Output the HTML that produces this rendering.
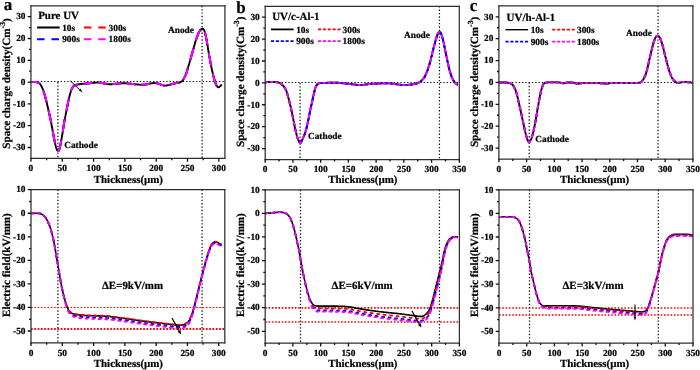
<!DOCTYPE html>
<html><head><meta charset="utf-8"><title>Space charge and electric field</title>
<style>html,body{margin:0;padding:0;background:#fff;}body{width:700px;height:370px;overflow:hidden;}svg text{fill:#000;stroke:#000;stroke-width:0.22px;}</style></head>
<body>
<svg width="700" height="370" viewBox="0 0 700 370" style="display:block;will-change:transform;font-family:'Liberation Serif', serif;font-weight:bold" text-rendering="geometricPrecision">
<rect x="0" y="0" width="700" height="370" fill="#ffffff"/>
<path d="M30.95,81.50H224.90" stroke="#111" stroke-width="1.05" stroke-dasharray="1.35 1.95" fill="none"/>
<path d="M57.90,82.10V158.40" stroke="#111" stroke-width="1.25" stroke-dasharray="1.35 2.0" fill="none"/>
<path d="M202.10,5.80V158.40" stroke="#111" stroke-width="1.25" stroke-dasharray="1.35 2.0" fill="none"/>
<path d="M30.9,82.1 L31.4,82.1 L31.9,82.1 L32.3,82.1 L32.8,82.1 L33.2,82.1 L33.7,82.1 L34.1,82.1 L34.6,82.1 L35.0,82.1 L35.5,82.1 L36.0,82.1 L36.4,82.1 L36.9,82.2 L37.3,82.3 L37.8,82.5 L38.2,82.7 L38.7,82.9 L39.1,83.2 L39.6,83.5 L40.1,84.0 L40.5,84.7 L41.0,85.4 L41.4,86.2 L41.9,87.1 L42.3,88.0 L42.8,89.1 L43.2,90.4 L43.7,91.7 L44.2,93.2 L44.6,94.7 L45.1,96.3 L45.5,97.9 L46.0,99.5 L46.4,101.4 L46.9,103.3 L47.3,105.2 L47.8,107.2 L48.3,109.2 L48.7,111.2 L49.2,113.2 L49.6,115.2 L50.1,117.2 L50.5,119.3 L51.0,121.6 L51.4,124.1 L51.9,126.7 L52.4,129.3 L52.8,131.8 L53.3,134.2 L53.7,136.6 L54.2,139.0 L54.6,141.2 L55.1,143.3 L55.5,145.2 L56.0,147.1 L56.5,148.7 L56.9,149.7 L57.4,150.6 L57.8,151.1 L58.3,151.1 L58.7,150.6 L59.2,149.7 L59.6,148.4 L60.1,146.3 L60.6,144.0 L61.0,141.7 L61.5,139.2 L61.9,136.6 L62.4,134.0 L62.8,131.2 L63.3,128.3 L63.7,125.3 L64.2,122.4 L64.7,119.8 L65.1,117.4 L65.6,115.2 L66.0,113.0 L66.5,110.8 L66.9,108.5 L67.4,106.1 L67.8,103.7 L68.3,101.4 L68.8,99.3 L69.2,97.4 L69.7,95.6 L70.1,93.8 L70.6,92.2 L71.0,90.7 L71.5,89.5 L71.9,88.5 L72.4,87.8 L72.9,87.1 L73.3,86.5 L73.8,86.0 L74.2,85.7 L74.7,85.5 L75.1,85.3 L75.6,85.1 L76.0,84.9 L76.5,84.8 L77.0,84.7 L77.4,84.5 L77.9,84.4 L78.3,84.4 L78.8,84.3 L79.2,84.2 L79.7,84.2 L80.1,84.1 L80.6,84.0 L81.1,84.0 L81.5,83.9 L82.0,83.9 L82.4,83.8 L82.9,83.8 L83.3,83.8 L83.8,83.7 L84.2,83.7 L84.7,83.7 L85.2,83.6 L85.6,83.6 L86.1,83.5 L86.5,83.5 L87.0,83.5 L87.4,83.4 L87.9,83.4 L88.3,83.3 L88.8,83.3 L89.3,83.2 L89.7,83.2 L90.2,83.1 L90.6,83.1 L91.1,83.0 L91.5,83.0 L92.0,82.9 L92.4,82.9 L92.9,82.8 L93.4,82.8 L93.8,82.7 L94.3,82.7 L94.7,82.7 L95.2,82.6 L95.6,82.6 L96.1,82.6 L96.5,82.6 L97.0,82.5 L97.4,82.5 L97.9,82.5 L98.4,82.5 L98.8,82.6 L99.3,82.6 L99.7,82.7 L100.2,82.7 L100.6,82.8 L101.1,82.8 L101.5,82.9 L102.0,83.0 L102.5,83.1 L102.9,83.2 L103.4,83.3 L103.8,83.4 L104.3,83.5 L104.7,83.6 L105.2,83.7 L105.6,83.7 L106.1,83.8 L106.6,83.9 L107.0,84.0 L107.5,84.1 L107.9,84.1 L108.4,84.2 L108.8,84.2 L109.3,84.2 L109.7,84.3 L110.2,84.3 L110.7,84.3 L111.1,84.3 L111.6,84.2 L112.0,84.2 L112.5,84.2 L112.9,84.1 L113.4,84.1 L113.8,84.1 L114.3,84.0 L114.8,83.9 L115.2,83.9 L115.7,83.8 L116.1,83.8 L116.6,83.7 L117.0,83.6 L117.5,83.6 L117.9,83.5 L118.4,83.5 L118.9,83.4 L119.3,83.4 L119.8,83.3 L120.2,83.3 L120.7,83.2 L121.1,83.2 L121.6,83.2 L122.0,83.2 L122.5,83.2 L123.0,83.2 L123.4,83.2 L123.9,83.2 L124.3,83.2 L124.8,83.3 L125.2,83.3 L125.7,83.3 L126.1,83.3 L126.6,83.4 L127.1,83.4 L127.5,83.4 L128.0,83.5 L128.4,83.5 L128.9,83.6 L129.3,83.6 L129.8,83.7 L130.2,83.7 L130.7,83.8 L131.2,83.8 L131.6,83.9 L132.1,83.9 L132.5,84.0 L133.0,84.0 L133.4,84.1 L133.9,84.1 L134.3,84.2 L134.8,84.2 L135.3,84.3 L135.7,84.3 L136.2,84.4 L136.6,84.4 L137.1,84.4 L137.5,84.5 L138.0,84.5 L138.4,84.6 L138.9,84.6 L139.4,84.6 L139.8,84.6 L140.3,84.7 L140.7,84.7 L141.2,84.7 L141.6,84.7 L142.1,84.7 L142.5,84.7 L143.0,84.7 L143.5,84.7 L143.9,84.6 L144.4,84.6 L144.8,84.6 L145.3,84.5 L145.7,84.4 L146.2,84.3 L146.6,84.3 L147.1,84.2 L147.6,84.1 L148.0,84.0 L148.5,83.9 L148.9,83.8 L149.4,83.7 L149.8,83.6 L150.3,83.5 L150.7,83.4 L151.2,83.4 L151.7,83.3 L152.1,83.2 L152.6,83.1 L153.0,83.1 L153.5,83.0 L153.9,83.0 L154.4,83.0 L154.8,83.0 L155.3,83.0 L155.8,83.0 L156.2,83.1 L156.7,83.2 L157.1,83.3 L157.6,83.4 L158.0,83.5 L158.5,83.7 L158.9,83.8 L159.4,84.0 L159.8,84.2 L160.3,84.4 L160.8,84.5 L161.2,84.7 L161.7,84.9 L162.1,85.0 L162.6,85.2 L163.0,85.3 L163.5,85.4 L163.9,85.5 L164.4,85.6 L164.9,85.6 L165.3,85.6 L165.8,85.6 L166.2,85.5 L166.7,85.5 L167.1,85.4 L167.6,85.3 L168.0,85.2 L168.5,85.1 L169.0,85.0 L169.4,84.9 L169.9,84.7 L170.3,84.6 L170.8,84.5 L171.2,84.3 L171.7,84.2 L172.1,84.0 L172.6,83.9 L173.1,83.8 L173.5,83.7 L174.0,83.5 L174.4,83.4 L174.9,83.3 L175.3,83.3 L175.8,83.2 L176.2,83.1 L176.7,83.1 L177.2,83.0 L177.6,82.9 L178.1,82.8 L178.5,82.8 L179.0,82.7 L179.4,82.6 L179.9,82.4 L180.3,82.3 L180.8,82.1 L181.3,81.7 L181.7,81.4 L182.2,81.0 L182.6,80.5 L183.1,80.0 L183.5,79.3 L184.0,78.5 L184.4,77.7 L184.9,76.7 L185.4,75.7 L185.8,74.7 L186.3,73.5 L186.7,72.1 L187.2,70.5 L187.6,68.9 L188.1,67.3 L188.5,65.7 L189.0,64.2 L189.5,62.7 L189.9,61.1 L190.4,59.6 L190.8,58.0 L191.3,56.5 L191.7,54.9 L192.2,53.3 L192.6,51.6 L193.1,49.9 L193.6,48.3 L194.0,46.6 L194.5,45.0 L194.9,43.4 L195.4,41.9 L195.8,40.4 L196.3,39.1 L196.7,37.8 L197.2,36.5 L197.7,35.2 L198.1,34.1 L198.6,33.0 L199.0,32.1 L199.5,31.3 L199.9,30.6 L200.4,29.9 L200.8,29.5 L201.3,29.2 L201.8,28.9 L202.2,28.7 L202.7,28.7 L203.1,28.9 L203.6,29.4 L204.0,30.0 L204.5,30.9 L204.9,32.5 L205.4,34.4 L205.9,36.5 L206.3,38.6 L206.8,41.0 L207.2,43.7 L207.7,46.4 L208.1,49.2 L208.6,52.0 L209.0,54.6 L209.5,57.1 L210.0,59.6 L210.4,62.1 L210.9,64.5 L211.3,66.8 L211.8,69.1 L212.2,71.1 L212.7,73.1 L213.1,74.9 L213.6,76.7 L214.1,78.4 L214.5,80.0 L215.0,81.4 L215.4,82.8 L215.9,84.1 L216.3,85.3 L216.8,86.1 L217.2,86.6 L217.7,87.0 L218.2,87.3 L218.6,87.3 L219.1,87.1 L219.5,86.8 L220.0,86.4 L220.4,86.0 L220.9,85.6 L221.3,85.1 L221.8,84.5" fill="none" stroke="#000000" stroke-width="1.9" stroke-linejoin="round"/>
<path d="M31.9,82.1L32.3,82.1L32.8,82.1L33.2,82.1L33.7,82.1L34.1,82.1L34.6,82.1L35.0,82.1L35.5,82.1L36.0,82.1L36.4,82.1L36.9,82.2L37.3,82.3L37.8,82.5L38.2,82.7L38.7,82.9L39.1,83.2L39.6,83.5L40.1,84.0L40.1,84.1M43.6,91.3L43.7,91.7L44.2,93.2L44.6,94.7L45.1,96.3L45.5,97.9L46.0,99.5L46.4,101.4L46.8,102.9M48.8,111.4L49.2,113.2L49.6,115.2L50.1,117.2L50.5,119.3L51.0,121.6L51.3,123.4M52.9,132.1L53.3,134.2L53.7,136.6L54.2,139.0L54.6,141.2L55.1,143.3L55.3,144.2M58.4,150.9L58.7,150.6L59.2,149.7L59.6,148.4L60.1,146.3L60.6,144.0L61.0,141.7L61.4,139.4M62.9,130.6L63.3,128.3L63.7,125.3L64.2,122.4L64.7,119.8L64.9,118.4M66.7,109.8L66.9,108.5L67.4,106.1L67.8,103.7L68.3,101.4L68.8,99.3L69.1,97.7M71.5,89.5L71.9,88.5L72.4,87.8L72.9,87.1L73.3,86.5L73.8,86.0L74.2,85.7L74.7,85.5L75.1,85.3L75.6,85.1L76.0,84.9L76.5,84.8L77.0,84.7L77.4,84.5L77.9,84.4L78.3,84.4L78.8,84.3M84.7,83.6L85.2,83.6L85.6,83.6L86.1,83.5L86.5,83.5L87.0,83.5L87.4,83.4L87.9,83.4L88.3,83.3L88.8,83.3L89.3,83.2L89.7,83.2L90.2,83.1L90.6,83.1L91.1,83.0L91.5,83.0L92.0,82.9L92.4,82.9L92.9,82.8L93.1,82.8M99.1,82.6L99.3,82.6L99.7,82.7L100.2,82.7L100.6,82.8L101.1,82.8L101.5,82.9L102.0,83.0L102.5,83.1L102.9,83.2L103.4,83.3L103.8,83.4L104.3,83.5L104.7,83.6L105.2,83.7L105.6,83.7L106.1,83.8L106.6,83.9L107.0,84.0L107.5,84.1M113.4,84.1L113.8,84.1L114.3,84.0L114.8,83.9L115.2,83.9L115.7,83.8L116.1,83.8L116.6,83.7L117.0,83.6L117.5,83.6L117.9,83.5L118.4,83.5L118.9,83.4L119.3,83.4L119.8,83.3L120.2,83.3L120.7,83.2L121.1,83.2L121.6,83.2L121.8,83.2M127.8,83.5L128.0,83.5L128.4,83.5L128.9,83.6L129.3,83.6L129.8,83.7L130.2,83.7L130.7,83.8L131.2,83.8L131.6,83.9L132.1,83.9L132.5,84.0L133.0,84.0L133.4,84.1L133.9,84.1L134.3,84.2L134.8,84.2L135.3,84.3L135.7,84.3L136.2,84.4L136.2,84.4M142.2,84.7L142.5,84.7L143.0,84.7L143.5,84.7L143.9,84.6L144.4,84.6L144.8,84.6L145.3,84.5L145.7,84.4L146.2,84.3L146.6,84.3L147.1,84.2L147.6,84.1L148.0,84.0L148.5,83.9L148.9,83.8L149.4,83.7L149.8,83.6L150.3,83.5L150.5,83.5M156.5,83.1L156.7,83.2L157.1,83.3L157.6,83.4L158.0,83.5L158.5,83.7L158.9,83.8L159.4,84.0L159.8,84.2L160.3,84.4L160.8,84.5L161.2,84.7L161.7,84.9L162.1,85.0L162.6,85.2L163.0,85.3L163.5,85.4L163.9,85.5L164.4,85.6L164.7,85.6M170.7,84.5L170.8,84.5L171.2,84.3L171.7,84.2L172.1,84.0L172.6,83.9L173.1,83.8L173.5,83.7L174.0,83.5L174.4,83.4L174.9,83.3L175.3,83.3L175.8,83.2L176.2,83.1L176.7,83.1L177.2,83.0L177.6,82.9L178.1,82.8L178.5,82.8L179.0,82.7L179.0,82.7M184.1,78.4L184.4,77.7L184.9,76.7L185.4,75.7L185.8,74.7L186.3,73.5L186.7,72.1L187.2,70.5L187.6,68.9L188.1,67.3M190.5,59.1L190.8,58.0L191.3,56.5L191.7,54.9L192.2,53.3L192.6,51.6L193.1,49.9L193.6,48.3L193.8,47.5M196.2,39.3L196.3,39.1L196.7,37.8L197.2,36.5L197.7,35.2L198.1,34.1L198.6,33.0L199.0,32.1L199.5,31.3L199.9,30.6L200.4,29.9L200.8,29.5L201.1,29.3M205.2,33.7L205.4,34.4L205.9,36.5L206.3,38.6L206.8,41.0L207.2,43.7L207.6,45.8M209.0,54.5L209.0,54.6L209.5,57.1L210.0,59.6L210.4,62.1L210.9,64.5L211.3,66.6M213.2,75.2L213.6,76.7L214.1,78.4L214.5,80.0L215.0,81.4L215.4,82.8L215.9,84.1L216.3,85.3L216.8,86.1L217.0,86.3" fill="none" stroke="#ff0000" stroke-width="1.9" stroke-linejoin="round"/>
<path d="M31.4,82.1L31.9,82.1L32.3,82.1L32.8,82.1L33.2,82.1L33.7,82.1L34.1,82.1L34.6,82.1L35.0,82.1L35.5,82.1L36.0,82.1L36.4,82.1L36.9,82.2L37.3,82.3L37.8,82.5L38.2,82.7L38.7,82.9L39.1,83.2L39.6,83.5L39.7,83.6M43.3,90.6L43.7,91.7L44.2,93.2L44.6,94.7L45.1,96.3L45.5,97.9L46.0,99.5L46.4,101.4L46.6,102.2M48.6,110.7L48.7,111.2L49.2,113.2L49.6,115.2L50.1,117.2L50.5,119.3L51.0,121.6L51.2,122.7M52.7,131.4L52.8,131.8L53.3,134.2L53.7,136.6L54.2,139.0L54.6,141.2L55.1,143.3L55.1,143.5M58.0,151.1L58.3,151.1L58.7,150.6L59.2,149.7L59.6,148.4L60.1,146.3L60.6,144.0L61.0,141.7L61.3,140.1M62.8,131.4L62.8,131.2L63.3,128.3L63.7,125.3L64.2,122.4L64.7,119.8L64.8,119.1M66.5,110.5L66.9,108.5L67.4,106.1L67.8,103.7L68.3,101.4L68.8,99.3L69.0,98.4M71.2,90.1L71.5,89.5L71.9,88.5L72.4,87.8L72.9,87.1L73.3,86.5L73.8,86.0L74.2,85.7L74.7,85.5L75.1,85.3L75.6,85.1L76.0,84.9L76.5,84.8L77.0,84.7L77.4,84.5L77.9,84.4L78.3,84.4M84.2,83.7L84.2,83.7L84.7,83.7L85.2,83.6L85.6,83.6L86.1,83.5L86.5,83.5L87.0,83.5L87.4,83.4L87.9,83.4L88.3,83.3L88.8,83.3L89.3,83.2L89.7,83.2L90.2,83.1L90.6,83.1L91.1,83.0L91.5,83.0L92.0,82.9L92.4,82.9L92.6,82.9M98.6,82.6L98.8,82.6L99.3,82.6L99.7,82.7L100.2,82.7L100.6,82.8L101.1,82.8L101.5,82.9L102.0,83.0L102.5,83.1L102.9,83.2L103.4,83.3L103.8,83.4L104.3,83.5L104.7,83.6L105.2,83.7L105.6,83.7L106.1,83.8L106.6,83.9L107.0,84.0M112.9,84.1L113.4,84.1L113.8,84.1L114.3,84.0L114.8,83.9L115.2,83.9L115.7,83.8L116.1,83.8L116.6,83.7L117.0,83.6L117.5,83.6L117.9,83.5L118.4,83.5L118.9,83.4L119.3,83.4L119.8,83.3L120.2,83.3L120.7,83.2L121.1,83.2L121.3,83.2M127.3,83.4L127.5,83.4L128.0,83.5L128.4,83.5L128.9,83.6L129.3,83.6L129.8,83.7L130.2,83.7L130.7,83.8L131.2,83.8L131.6,83.9L132.1,83.9L132.5,84.0L133.0,84.0L133.4,84.1L133.9,84.1L134.3,84.2L134.8,84.2L135.3,84.3L135.7,84.3M141.7,84.7L142.1,84.7L142.5,84.7L143.0,84.7L143.5,84.7L143.9,84.6L144.4,84.6L144.8,84.6L145.3,84.5L145.7,84.4L146.2,84.3L146.6,84.3L147.1,84.2L147.6,84.1L148.0,84.0L148.5,83.9L148.9,83.8L149.4,83.7L149.8,83.6L150.0,83.6M156.0,83.0L156.2,83.1L156.7,83.2L157.1,83.3L157.6,83.4L158.0,83.5L158.5,83.7L158.9,83.8L159.4,84.0L159.8,84.2L160.3,84.4L160.8,84.5L161.2,84.7L161.7,84.9L162.1,85.0L162.6,85.2L163.0,85.3L163.5,85.4L163.9,85.5L164.3,85.5M170.2,84.6L170.3,84.6L170.8,84.5L171.2,84.3L171.7,84.2L172.1,84.0L172.6,83.9L173.1,83.8L173.5,83.7L174.0,83.5L174.4,83.4L174.9,83.3L175.3,83.3L175.8,83.2L176.2,83.1L176.7,83.1L177.2,83.0L177.6,82.9L178.1,82.8L178.5,82.8M183.8,78.9L184.0,78.5L184.4,77.7L184.9,76.7L185.4,75.7L185.8,74.7L186.3,73.5L186.7,72.1L187.2,70.5L187.6,68.9L187.9,68.0M190.3,59.8L190.4,59.6L190.8,58.0L191.3,56.5L191.7,54.9L192.2,53.3L192.6,51.6L193.1,49.9L193.6,48.3L193.6,48.2M196.0,40.0L196.3,39.1L196.7,37.8L197.2,36.5L197.7,35.2L198.1,34.1L198.6,33.0L199.0,32.1L199.5,31.3L199.9,30.6L200.4,29.9L200.7,29.6M205.1,33.0L205.4,34.4L205.9,36.5L206.3,38.6L206.8,41.0L207.2,43.7L207.4,45.0M208.9,53.8L209.0,54.6L209.5,57.1L210.0,59.6L210.4,62.1L210.9,64.5L211.1,65.9M213.0,74.5L213.1,74.9L213.6,76.7L214.1,78.4L214.5,80.0L215.0,81.4L215.4,82.8L215.9,84.1L216.3,85.3L216.6,85.8M221.8,84.5L221.8,84.5" fill="none" stroke="#0000ff" stroke-width="1.9" stroke-linejoin="round"/>
<path d="M30.9,82.1L31.4,82.1L31.9,82.1L32.3,82.1L32.8,82.1L33.2,82.1L33.7,82.1L34.1,82.1L34.6,82.1L35.0,82.1L35.5,82.1L36.0,82.1L36.4,82.1L36.9,82.2L37.3,82.3L37.8,82.5L38.2,82.7L38.7,82.9L39.1,83.2L39.2,83.3M43.1,90.0L43.2,90.4L43.7,91.7L44.2,93.2L44.6,94.7L45.1,96.3L45.5,97.9L46.0,99.5L46.4,101.4L46.5,101.5M48.4,110.0L48.7,111.2L49.2,113.2L49.6,115.2L50.1,117.2L50.5,119.3L51.0,121.6L51.1,122.0M52.6,130.7L52.8,131.8L53.3,134.2L53.7,136.6L54.2,139.0L54.6,141.2L55.0,142.8M57.5,150.8L57.8,151.1L58.3,151.1L58.7,150.6L59.2,149.7L59.6,148.4L60.1,146.3L60.6,144.0L61.0,141.7L61.2,140.8M62.7,132.1L62.8,131.2L63.3,128.3L63.7,125.3L64.2,122.4L64.7,119.8M66.4,111.2L66.5,110.8L66.9,108.5L67.4,106.1L67.8,103.7L68.3,101.4L68.8,99.3L68.8,99.2M71.0,90.8L71.0,90.7L71.5,89.5L71.9,88.5L72.4,87.8L72.9,87.1L73.3,86.5L73.8,86.0L74.2,85.7L74.7,85.5L75.1,85.3L75.6,85.1L76.0,84.9L76.5,84.8L77.0,84.7L77.4,84.5L77.8,84.5M83.7,83.7L83.8,83.7L84.2,83.7L84.7,83.7L85.2,83.6L85.6,83.6L86.1,83.5L86.5,83.5L87.0,83.5L87.4,83.4L87.9,83.4L88.3,83.3L88.8,83.3L89.3,83.2L89.7,83.2L90.2,83.1L90.6,83.1L91.1,83.0L91.5,83.0L92.0,82.9L92.1,82.9M98.1,82.5L98.4,82.5L98.8,82.6L99.3,82.6L99.7,82.7L100.2,82.7L100.6,82.8L101.1,82.8L101.5,82.9L102.0,83.0L102.5,83.1L102.9,83.2L103.4,83.3L103.8,83.4L104.3,83.5L104.7,83.6L105.2,83.7L105.6,83.7L106.1,83.8L106.5,83.9M112.4,84.2L112.5,84.2L112.9,84.1L113.4,84.1L113.8,84.1L114.3,84.0L114.8,83.9L115.2,83.9L115.7,83.8L116.1,83.8L116.6,83.7L117.0,83.6L117.5,83.6L117.9,83.5L118.4,83.5L118.9,83.4L119.3,83.4L119.8,83.3L120.2,83.3L120.7,83.2L120.8,83.2M126.8,83.4L127.1,83.4L127.5,83.4L128.0,83.5L128.4,83.5L128.9,83.6L129.3,83.6L129.8,83.7L130.2,83.7L130.7,83.8L131.2,83.8L131.6,83.9L132.1,83.9L132.5,84.0L133.0,84.0L133.4,84.1L133.9,84.1L134.3,84.2L134.8,84.2L135.2,84.3M141.2,84.7L141.6,84.7L142.1,84.7L142.5,84.7L143.0,84.7L143.5,84.7L143.9,84.6L144.4,84.6L144.8,84.6L145.3,84.5L145.7,84.4L146.2,84.3L146.6,84.3L147.1,84.2L147.6,84.1L148.0,84.0L148.5,83.9L148.9,83.8L149.4,83.7L149.6,83.7M155.5,83.0L155.8,83.0L156.2,83.1L156.7,83.2L157.1,83.3L157.6,83.4L158.0,83.5L158.5,83.7L158.9,83.8L159.4,84.0L159.8,84.2L160.3,84.4L160.8,84.5L161.2,84.7L161.7,84.9L162.1,85.0L162.6,85.2L163.0,85.3L163.5,85.4L163.8,85.5M169.7,84.8L169.9,84.7L170.3,84.6L170.8,84.5L171.2,84.3L171.7,84.2L172.1,84.0L172.6,83.9L173.1,83.8L173.5,83.7L174.0,83.5L174.4,83.4L174.9,83.3L175.3,83.3L175.8,83.2L176.2,83.1L176.7,83.1L177.2,83.0L177.6,82.9L178.0,82.9M183.4,79.5L183.5,79.3L184.0,78.5L184.4,77.7L184.9,76.7L185.4,75.7L185.8,74.7L186.3,73.5L186.7,72.1L187.2,70.5L187.6,68.9L187.7,68.7M190.1,60.5L190.4,59.6L190.8,58.0L191.3,56.5L191.7,54.9L192.2,53.3L192.6,51.6L193.1,49.9L193.4,48.9M195.8,40.6L195.8,40.4L196.3,39.1L196.7,37.8L197.2,36.5L197.7,35.2L198.1,34.1L198.6,33.0L199.0,32.1L199.5,31.3L199.9,30.6L200.3,30.1M204.9,32.3L204.9,32.5L205.4,34.4L205.9,36.5L206.3,38.6L206.8,41.0L207.2,43.7L207.3,44.3M208.8,53.1L209.0,54.6L209.5,57.1L210.0,59.6L210.4,62.1L210.9,64.5L211.0,65.2M212.9,73.8L213.1,74.9L213.6,76.7L214.1,78.4L214.5,80.0L215.0,81.4L215.4,82.8L215.9,84.1L216.3,85.2M221.4,85.0L221.8,84.5" fill="none" stroke="#ff00ff" stroke-width="1.9" stroke-linejoin="round"/>
<path d="M30.35,5.80H225.50" stroke="#2e2e2e" stroke-width="1.25"/>
<path d="M224.90,5.20V159.00" stroke="#2e2e2e" stroke-width="1.25"/>
<path d="M30.35,158.40H225.50" stroke="#2e2e2e" stroke-width="1.25"/>
<path d="M30.95,5.20V159.00" stroke="#2e2e2e" stroke-width="1.25"/>
<path d="M27.65,147.50H30.95M27.65,125.70H30.95M27.65,103.90H30.95M27.65,82.10H30.95M27.65,60.30H30.95M27.65,38.50H30.95M27.65,16.70H30.95M29.05,136.60H30.95M29.05,114.80H30.95M29.05,93.00H30.95M29.05,71.20H30.95M29.05,49.40H30.95M29.05,27.60H30.95M30.95,158.40V161.70M62.26,158.40V161.70M93.58,158.40V161.70M124.89,158.40V161.70M156.20,158.40V161.70M187.51,158.40V161.70M218.83,158.40V161.70M46.61,158.40V160.30M77.92,158.40V160.30M109.23,158.40V160.30M140.54,158.40V160.30M171.86,158.40V160.30M203.17,158.40V160.30" stroke="#111" stroke-width="1.3" fill="none"/>
<text x="25.45" y="150.25" font-size="9.3" text-anchor="end">-30</text>
<text x="25.45" y="128.45" font-size="9.3" text-anchor="end">-20</text>
<text x="25.45" y="106.65" font-size="9.3" text-anchor="end">-10</text>
<text x="25.45" y="84.85" font-size="9.3" text-anchor="end">0</text>
<text x="25.45" y="63.05" font-size="9.3" text-anchor="end">10</text>
<text x="25.45" y="41.25" font-size="9.3" text-anchor="end">20</text>
<text x="25.45" y="19.45" font-size="9.3" text-anchor="end">30</text>
<text x="30.95" y="171.30" font-size="9.3" text-anchor="middle">0</text>
<text x="62.26" y="171.30" font-size="9.3" text-anchor="middle">50</text>
<text x="93.58" y="171.30" font-size="9.3" text-anchor="middle">100</text>
<text x="124.89" y="171.30" font-size="9.3" text-anchor="middle">150</text>
<text x="156.20" y="171.30" font-size="9.3" text-anchor="middle">200</text>
<text x="187.51" y="171.30" font-size="9.3" text-anchor="middle">250</text>
<text x="218.83" y="171.30" font-size="9.3" text-anchor="middle">300</text>
<path d="M70.40,80.90L79.37,89.43" stroke="#000" stroke-width="1.0" fill="none"/><path d="M82.70,92.60L78.51,90.34L80.23,88.52Z" fill="#000"/>
<text x="38.20" y="18.60" font-size="10.95">Pure UV</text>
<path d="M37.10,27.50h22.6" stroke="#000" stroke-width="2.0"/>
<path d="M83.90,27.50h22.6" stroke="#ff0000" stroke-width="2.0" stroke-dasharray="7.4 7.0"/>
<path d="M37.10,39.30h22.6" stroke="#0000ff" stroke-width="2.0" stroke-dasharray="7.4 7.0"/>
<path d="M83.90,39.30h22.6" stroke="#ff00ff" stroke-width="2.0" stroke-dasharray="7.4 7.0"/>
<text x="62.20" y="30.60" font-size="9.3">10s</text>
<text x="108.60" y="30.60" font-size="9.3">300s</text>
<text x="62.20" y="42.40" font-size="9.3">900s</text>
<text x="108.60" y="42.40" font-size="9.3">1800s</text>
<text x="168.0" y="32.8" font-size="9.3">Anode</text>
<text x="64.2" y="148.0" font-size="9.3">Cathode</text>
<text x="128.40" y="182.80" font-size="10.9" text-anchor="middle">Thickness(µm)</text>
<text transform="translate(9.80,83.45) rotate(-90)" font-size="11.1" text-anchor="middle">Space charge density(Cm<tspan font-size="7.8" dy="-4.8">-3</tspan><tspan dy="4.8">)</tspan></text>
<text x="3.8" y="10.0" font-size="17">a</text>
<path d="M265.20,82.50H459.30" stroke="#111" stroke-width="1.05" stroke-dasharray="1.35 1.95" fill="none"/>
<path d="M300.10,82.88V159.50" stroke="#111" stroke-width="1.25" stroke-dasharray="1.35 2.0" fill="none"/>
<path d="M439.45,6.25V159.50" stroke="#111" stroke-width="1.25" stroke-dasharray="1.35 2.0" fill="none"/>
<path d="M265.2,82.2 L265.7,82.2 L266.1,82.2 L266.6,82.1 L267.0,82.1 L267.5,82.1 L268.0,82.1 L268.4,82.0 L268.9,82.0 L269.3,82.0 L269.8,82.0 L270.3,82.0 L270.7,82.0 L271.2,82.0 L271.6,82.0 L272.1,82.0 L272.6,82.0 L273.0,82.0 L273.5,82.0 L273.9,82.0 L274.4,82.0 L274.9,82.0 L275.3,82.1 L275.8,82.1 L276.2,82.1 L276.7,82.2 L277.2,82.2 L277.6,82.3 L278.1,82.4 L278.5,82.4 L279.0,82.6 L279.5,82.8 L279.9,83.0 L280.4,83.3 L280.8,83.6 L281.3,84.0 L281.8,84.3 L282.2,84.8 L282.7,85.2 L283.1,85.7 L283.6,86.3 L284.1,86.9 L284.5,87.5 L285.0,88.2 L285.4,89.0 L285.9,89.9 L286.4,91.0 L286.8,92.3 L287.3,93.8 L287.7,95.4 L288.2,97.2 L288.7,98.9 L289.1,100.6 L289.6,102.4 L290.0,104.3 L290.5,106.2 L291.0,108.1 L291.4,110.2 L291.9,112.3 L292.3,114.6 L292.8,116.9 L293.3,119.2 L293.7,121.5 L294.2,123.8 L294.6,126.2 L295.1,128.4 L295.6,130.5 L296.0,132.4 L296.5,134.3 L296.9,136.0 L297.4,137.5 L297.9,138.9 L298.3,140.1 L298.8,141.2 L299.2,142.1 L299.7,142.9 L300.2,143.3 L300.6,142.8 L301.1,142.0 L301.5,141.2 L302.0,140.3 L302.5,139.3 L302.9,138.3 L303.4,137.2 L303.8,136.1 L304.3,135.0 L304.8,133.8 L305.2,132.5 L305.7,131.1 L306.1,129.6 L306.6,127.8 L307.1,125.8 L307.5,123.7 L308.0,121.5 L308.4,119.4 L308.9,117.1 L309.4,114.7 L309.8,112.3 L310.3,110.0 L310.7,107.9 L311.2,105.8 L311.7,103.7 L312.1,101.7 L312.6,99.6 L313.0,97.4 L313.5,95.3 L314.0,93.1 L314.4,91.2 L314.9,89.6 L315.3,88.1 L315.8,86.9 L316.3,85.9 L316.7,85.1 L317.2,84.4 L317.6,83.9 L318.1,83.7 L318.6,83.5 L319.0,83.3 L319.5,83.2 L319.9,83.1 L320.4,83.1 L320.9,83.0 L321.3,83.0 L321.8,83.0 L322.2,83.0 L322.7,83.0 L323.2,83.0 L323.6,82.9 L324.1,82.9 L324.5,82.9 L325.0,82.9 L325.5,82.9 L325.9,82.9 L326.4,82.9 L326.8,82.9 L327.3,82.8 L327.8,82.8 L328.2,82.8 L328.7,82.8 L329.1,82.8 L329.6,82.8 L330.1,82.7 L330.5,82.7 L331.0,82.7 L331.4,82.7 L331.9,82.7 L332.4,82.7 L332.8,82.7 L333.3,82.7 L333.7,82.7 L334.2,82.7 L334.7,82.7 L335.1,82.7 L335.6,82.7 L336.0,82.7 L336.5,82.7 L337.0,82.7 L337.4,82.8 L337.9,82.8 L338.3,82.8 L338.8,82.8 L339.2,82.9 L339.7,82.9 L340.2,83.0 L340.6,83.0 L341.1,83.0 L341.5,83.1 L342.0,83.1 L342.5,83.2 L342.9,83.2 L343.4,83.3 L343.8,83.3 L344.3,83.3 L344.8,83.4 L345.2,83.4 L345.7,83.5 L346.1,83.5 L346.6,83.6 L347.1,83.6 L347.5,83.7 L348.0,83.7 L348.4,83.8 L348.9,83.8 L349.4,83.9 L349.8,83.9 L350.3,84.0 L350.7,84.0 L351.2,84.1 L351.7,84.2 L352.1,84.2 L352.6,84.3 L353.0,84.4 L353.5,84.4 L354.0,84.5 L354.4,84.6 L354.9,84.6 L355.3,84.7 L355.8,84.8 L356.3,84.8 L356.7,84.9 L357.2,84.9 L357.6,85.0 L358.1,85.0 L358.6,85.0 L359.0,85.0 L359.5,85.1 L359.9,85.1 L360.4,85.1 L360.9,85.0 L361.3,85.0 L361.8,85.0 L362.2,85.0 L362.7,84.9 L363.2,84.9 L363.6,84.8 L364.1,84.8 L364.5,84.7 L365.0,84.6 L365.5,84.6 L365.9,84.5 L366.4,84.4 L366.8,84.4 L367.3,84.3 L367.8,84.2 L368.2,84.2 L368.7,84.1 L369.1,84.0 L369.6,84.0 L370.1,83.9 L370.5,83.9 L371.0,83.8 L371.4,83.8 L371.9,83.8 L372.4,83.7 L372.8,83.7 L373.3,83.7 L373.7,83.7 L374.2,83.7 L374.7,83.6 L375.1,83.6 L375.6,83.6 L376.0,83.6 L376.5,83.6 L377.0,83.6 L377.4,83.5 L377.9,83.5 L378.3,83.5 L378.8,83.5 L379.3,83.5 L379.7,83.5 L380.2,83.4 L380.6,83.4 L381.1,83.4 L381.6,83.4 L382.0,83.4 L382.5,83.4 L382.9,83.4 L383.4,83.4 L383.9,83.4 L384.3,83.3 L384.8,83.3 L385.2,83.3 L385.7,83.3 L386.2,83.3 L386.6,83.3 L387.1,83.3 L387.5,83.3 L388.0,83.3 L388.5,83.3 L388.9,83.3 L389.4,83.3 L389.8,83.4 L390.3,83.4 L390.8,83.4 L391.2,83.5 L391.7,83.5 L392.1,83.6 L392.6,83.6 L393.1,83.7 L393.5,83.8 L394.0,83.8 L394.4,83.9 L394.9,84.0 L395.4,84.1 L395.8,84.1 L396.3,84.2 L396.7,84.3 L397.2,84.4 L397.7,84.4 L398.1,84.5 L398.6,84.6 L399.0,84.6 L399.5,84.7 L400.0,84.8 L400.4,84.8 L400.9,84.9 L401.3,84.9 L401.8,85.0 L402.3,85.0 L402.7,85.0 L403.2,85.0 L403.6,85.1 L404.1,85.1 L404.6,85.1 L405.0,85.1 L405.5,85.0 L405.9,85.0 L406.4,85.0 L406.9,85.0 L407.3,84.9 L407.8,84.9 L408.2,84.9 L408.7,84.8 L409.2,84.8 L409.6,84.7 L410.1,84.7 L410.5,84.6 L411.0,84.6 L411.5,84.5 L411.9,84.5 L412.4,84.4 L412.8,84.3 L413.3,84.3 L413.8,84.2 L414.2,84.1 L414.7,84.0 L415.1,83.9 L415.6,83.7 L416.1,83.6 L416.5,83.5 L417.0,83.3 L417.4,83.1 L417.9,82.9 L418.4,82.7 L418.8,82.5 L419.3,82.3 L419.7,82.0 L420.2,81.7 L420.7,81.4 L421.1,81.1 L421.6,80.7 L422.0,80.2 L422.5,79.8 L423.0,79.2 L423.4,78.7 L423.9,78.0 L424.3,77.4 L424.8,76.6 L425.3,75.7 L425.7,74.7 L426.2,73.6 L426.6,72.5 L427.1,71.3 L427.6,70.1 L428.0,68.8 L428.5,67.4 L428.9,65.9 L429.4,64.4 L429.9,62.8 L430.3,61.2 L430.8,59.5 L431.2,57.6 L431.7,55.7 L432.2,53.8 L432.6,51.9 L433.1,50.0 L433.5,48.1 L434.0,46.4 L434.5,44.7 L434.9,42.9 L435.4,41.2 L435.8,39.6 L436.3,38.1 L436.8,36.6 L437.2,35.4 L437.7,34.2 L438.1,33.2 L438.6,32.6 L439.1,32.1 L439.5,31.9 L440.0,32.1 L440.4,32.5 L440.9,33.2 L441.4,34.3 L441.8,35.6 L442.3,37.2 L442.7,38.8 L443.2,40.7 L443.7,42.7 L444.1,45.0 L444.6,47.3 L445.0,49.6 L445.5,51.8 L446.0,54.0 L446.4,56.1 L446.9,58.2 L447.3,60.4 L447.8,62.6 L448.3,64.7 L448.7,66.8 L449.2,68.7 L449.6,70.5 L450.1,72.1 L450.6,73.6 L451.0,75.0 L451.5,76.3 L451.9,77.4 L452.4,78.5 L452.9,79.4 L453.3,80.3 L453.8,81.0 L454.2,81.7 L454.7,82.3 L455.2,82.9 L455.6,83.3 L456.1,83.6 L456.5,84.0 L457.0,84.3 L457.5,84.5 L457.9,84.6" fill="none" stroke="#000000" stroke-width="1.9" stroke-linejoin="round"/>
<path d="M265.2,82.2L265.7,82.2L266.1,82.2L266.6,82.1L267.0,82.1L267.5,82.1L268.0,82.1L268.0,82.1M270.2,82.0L270.3,82.0L270.7,82.0L271.2,82.0L271.6,82.0L272.1,82.0L272.6,82.0L273.0,82.0M275.2,82.1L275.3,82.1L275.8,82.1L276.2,82.1L276.7,82.2L277.2,82.2L277.6,82.3L278.0,82.4M280.1,83.2L280.4,83.3L280.8,83.6L281.3,84.0L281.8,84.3L282.2,84.8L282.6,85.1M284.3,87.2L284.5,87.5L285.0,88.2L285.4,89.0L285.9,89.9L286.1,90.4M287.1,93.3L287.3,93.8L287.7,95.4L288.2,97.2L288.2,97.2M289.0,100.2L289.1,100.6L289.6,102.4L290.0,104.2M290.8,107.3L291.0,108.1L291.4,110.2L291.6,111.2M292.3,114.4L292.3,114.6L292.8,116.9L293.1,118.4M293.7,121.6L294.2,123.8L294.5,125.6M295.2,128.8L295.6,130.5L296.0,132.4L296.1,132.7M296.9,135.9L296.9,136.0L297.4,137.5L297.9,138.9L298.2,139.7M299.5,142.6L299.7,142.9L300.2,143.3L300.6,142.8L301.1,142.0L301.5,141.2L301.7,140.8M303.1,137.9L303.4,137.2L303.8,136.1L304.3,135.0L304.6,134.1M305.7,131.1L306.1,129.6L306.6,127.8L306.7,127.1M307.4,124.0L307.5,123.7L308.0,121.5L308.3,120.0M308.9,116.9L309.4,114.7L309.7,112.8M310.4,109.7L310.7,107.9L311.2,105.8L311.2,105.7M311.9,102.5L312.1,101.7L312.6,99.6L312.8,98.6M313.5,95.4L313.5,95.3L314.0,93.1L314.4,91.4M315.3,88.4L315.3,88.1L315.8,86.9L316.3,85.9L316.7,85.1L316.8,84.9M318.7,83.4L319.0,83.3L319.5,83.2L319.9,83.1L320.4,83.1L320.9,83.0L321.3,83.0L321.5,83.0M323.7,82.9L324.1,82.9L324.5,82.9L325.0,82.9L325.5,82.9L325.9,82.9L326.4,82.9L326.5,82.9M328.7,82.8L329.1,82.8L329.6,82.8L330.1,82.7L330.5,82.7L331.0,82.7L331.4,82.7L331.5,82.7M333.7,82.7L333.7,82.7L334.2,82.7L334.7,82.7L335.1,82.7L335.6,82.7L336.0,82.7L336.5,82.7M338.7,82.8L338.8,82.8L339.2,82.9L339.7,82.9L340.2,83.0L340.6,83.0L341.1,83.0L341.5,83.1M343.7,83.3L343.8,83.3L344.3,83.3L344.8,83.4L345.2,83.4L345.7,83.5L346.1,83.5L346.5,83.6M348.7,83.8L348.9,83.8L349.4,83.9L349.8,83.9L350.3,84.0L350.7,84.0L351.2,84.1L351.4,84.1M353.6,84.5L354.0,84.5L354.4,84.6L354.9,84.6L355.3,84.7L355.8,84.8L356.3,84.8L356.4,84.8M358.6,85.0L359.0,85.0L359.5,85.1L359.9,85.1L360.4,85.1L360.9,85.0L361.3,85.0L361.4,85.0M363.6,84.8L363.6,84.8L364.1,84.8L364.5,84.7L365.0,84.6L365.5,84.6L365.9,84.5L366.4,84.4L366.4,84.4M368.6,84.1L368.7,84.1L369.1,84.0L369.6,84.0L370.1,83.9L370.5,83.9L371.0,83.8L371.4,83.8M373.6,83.7L373.7,83.7L374.2,83.7L374.7,83.6L375.1,83.6L375.6,83.6L376.0,83.6L376.4,83.6M378.6,83.5L378.8,83.5L379.3,83.5L379.7,83.5L380.2,83.4L380.6,83.4L381.1,83.4L381.4,83.4M383.6,83.4L383.9,83.4L384.3,83.3L384.8,83.3L385.2,83.3L385.7,83.3L386.2,83.3L386.4,83.3M388.6,83.3L388.9,83.3L389.4,83.3L389.8,83.4L390.3,83.4L390.8,83.4L391.2,83.5L391.4,83.5M393.6,83.8L394.0,83.8L394.4,83.9L394.9,84.0L395.4,84.1L395.8,84.1L396.3,84.2L396.4,84.2M398.5,84.6L398.6,84.6L399.0,84.6L399.5,84.7L400.0,84.8L400.4,84.8L400.9,84.9L401.3,84.9M403.5,85.1L403.6,85.1L404.1,85.1L404.6,85.1L405.0,85.1L405.5,85.0L405.9,85.0L406.3,85.0M408.5,84.8L408.7,84.8L409.2,84.8L409.6,84.7L410.1,84.7L410.5,84.6L411.0,84.6L411.3,84.5M413.5,84.2L413.8,84.2L414.2,84.1L414.7,84.0L415.1,83.9L415.6,83.7L416.1,83.6L416.3,83.5M418.4,82.7L418.8,82.5L419.3,82.3L419.7,82.0L420.2,81.7L420.7,81.4L421.0,81.2M422.8,79.4L423.0,79.2L423.4,78.7L423.9,78.0L424.3,77.4L424.8,76.6L424.9,76.5M426.1,73.8L426.2,73.6L426.6,72.5L427.1,71.3L427.5,70.1M428.5,67.2L428.9,65.9L429.4,64.4L429.7,63.4M430.5,60.3L430.8,59.5L431.2,57.6L431.5,56.4M432.3,53.3L432.6,51.9L433.1,50.0L433.2,49.4M434.0,46.3L434.5,44.7L434.9,42.9L435.1,42.4M435.9,39.3L436.3,38.1L436.8,36.6L437.2,35.6M438.4,32.9L438.6,32.6L439.1,32.1L439.5,31.9L440.0,32.1L440.4,32.5L440.8,33.0M441.9,35.8L442.3,37.2L442.7,38.8L443.0,39.7M443.7,42.8L444.1,45.0L444.5,46.8M445.1,50.0L445.5,51.8L446.0,54.0M446.6,57.1L446.9,58.2L447.3,60.4L447.5,61.1M448.2,64.3L448.3,64.7L448.7,66.8L449.1,68.2M449.9,71.3L450.1,72.1L450.6,73.6L451.0,75.0L451.1,75.1M452.2,78.0L452.4,78.5L452.9,79.4L453.3,80.3L453.8,81.0L453.9,81.2M455.6,83.3L456.1,83.6L456.5,84.0L457.0,84.3L457.5,84.5L457.9,84.6" fill="none" stroke="#ff0000" stroke-width="1.9" stroke-linejoin="round"/>
<path d="M265.2,82.2L265.7,82.2L266.1,82.2L266.6,82.1L267.0,82.1L267.5,82.1L268.0,82.1L268.0,82.1M270.2,82.0L270.3,82.0L270.7,82.0L271.2,82.0L271.6,82.0L272.1,82.0L272.6,82.0L273.0,82.0M275.2,82.1L275.3,82.1L275.8,82.1L276.2,82.1L276.7,82.2L277.2,82.2L277.6,82.3L278.0,82.4M280.1,83.2L280.4,83.3L280.8,83.6L281.3,84.0L281.8,84.3L282.2,84.8L282.6,85.1M284.3,87.2L284.5,87.5L285.0,88.2L285.4,89.0L285.9,89.9L286.1,90.4M287.1,93.3L287.3,93.8L287.7,95.4L288.2,97.2L288.2,97.2M289.0,100.2L289.1,100.6L289.6,102.4L290.0,104.2M290.8,107.3L291.0,108.1L291.4,110.2L291.6,111.2M292.3,114.4L292.3,114.6L292.8,116.9L293.1,118.4M293.7,121.6L294.2,123.8L294.5,125.6M295.2,128.8L295.6,130.5L296.0,132.4L296.1,132.7M296.9,135.9L296.9,136.0L297.4,137.5L297.9,138.9L298.3,140.0M300.0,143.1L300.2,143.3L300.6,142.8L301.1,142.0L301.5,141.2L302.0,140.3L302.3,139.5M303.8,136.2L303.8,136.1L304.3,135.0L304.8,133.8L305.2,132.5L305.3,132.1M306.3,129.0L306.6,127.8L307.1,125.8L307.2,125.0M307.9,121.9L308.0,121.5L308.4,119.4L308.7,117.9M309.4,114.7L309.4,114.7L309.8,112.3L310.1,110.7M310.8,107.5L311.2,105.8L311.7,103.7L311.7,103.5M312.4,100.4L312.6,99.6L313.0,97.4L313.3,96.4M313.9,93.3L314.0,93.1L314.4,91.2L314.9,89.6L315.0,89.4M316.0,86.5L316.3,85.9L316.7,85.1L317.2,84.4L317.6,83.9L318.0,83.7M320.2,83.1L320.4,83.1L320.9,83.0L321.3,83.0L321.8,83.0L322.2,83.0L322.7,83.0L323.0,83.0M325.2,82.9L325.5,82.9L325.9,82.9L326.4,82.9L326.8,82.9L327.3,82.8L327.8,82.8L328.0,82.8M330.2,82.7L330.5,82.7L331.0,82.7L331.4,82.7L331.9,82.7L332.4,82.7L332.8,82.7L333.0,82.7M335.2,82.7L335.6,82.7L336.0,82.7L336.5,82.7L337.0,82.7L337.4,82.8L337.9,82.8L338.0,82.8M340.2,83.0L340.6,83.0L341.1,83.0L341.5,83.1L342.0,83.1L342.5,83.2L342.9,83.2L343.0,83.2M345.2,83.4L345.2,83.4L345.7,83.5L346.1,83.5L346.6,83.6L347.1,83.6L347.5,83.7L348.0,83.7M350.2,83.9L350.3,84.0L350.7,84.0L351.2,84.1L351.7,84.2L352.1,84.2L352.6,84.3L352.9,84.4M355.1,84.7L355.3,84.7L355.8,84.8L356.3,84.8L356.7,84.9L357.2,84.9L357.6,85.0L357.9,85.0M360.1,85.1L360.4,85.1L360.9,85.0L361.3,85.0L361.8,85.0L362.2,85.0L362.7,84.9L362.9,84.9M365.1,84.6L365.5,84.6L365.9,84.5L366.4,84.4L366.8,84.4L367.3,84.3L367.8,84.2L367.9,84.2M370.1,83.9L370.5,83.9L371.0,83.8L371.4,83.8L371.9,83.8L372.4,83.7L372.8,83.7L372.9,83.7M375.1,83.6L375.1,83.6L375.6,83.6L376.0,83.6L376.5,83.6L377.0,83.6L377.4,83.5L377.9,83.5L377.9,83.5M380.1,83.4L380.2,83.4L380.6,83.4L381.1,83.4L381.6,83.4L382.0,83.4L382.5,83.4L382.9,83.4M385.1,83.3L385.2,83.3L385.7,83.3L386.2,83.3L386.6,83.3L387.1,83.3L387.5,83.3L387.9,83.3M390.1,83.4L390.3,83.4L390.8,83.4L391.2,83.5L391.7,83.5L392.1,83.6L392.6,83.6L392.9,83.7M395.1,84.0L395.4,84.1L395.8,84.1L396.3,84.2L396.7,84.3L397.2,84.4L397.7,84.4L397.8,84.5M400.0,84.8L400.4,84.8L400.9,84.9L401.3,84.9L401.8,85.0L402.3,85.0L402.7,85.0L402.8,85.0M405.0,85.1L405.5,85.0L405.9,85.0L406.4,85.0L406.9,85.0L407.3,84.9L407.8,84.9L407.8,84.9M410.0,84.7L410.1,84.7L410.5,84.6L411.0,84.6L411.5,84.5L411.9,84.5L412.4,84.4L412.8,84.3M415.0,83.9L415.1,83.9L415.6,83.7L416.1,83.6L416.5,83.5L417.0,83.3L417.4,83.1L417.7,83.0M419.8,82.0L420.2,81.7L420.7,81.4L421.1,81.1L421.6,80.7L422.0,80.2L422.3,80.0M424.0,77.9L424.3,77.4L424.8,76.6L425.3,75.7L425.7,74.7L425.7,74.6M426.9,71.8L427.1,71.3L427.6,70.1L428.0,68.8L428.2,68.1M429.2,65.2L429.4,64.4L429.9,62.8L430.3,61.3M431.1,58.2L431.2,57.6L431.7,55.7L432.0,54.3M432.8,51.2L433.1,50.0L433.5,48.1L433.8,47.2M434.6,44.2L434.9,42.9L435.4,41.2L435.6,40.3M436.5,37.3L436.8,36.6L437.2,35.4L437.7,34.2L437.9,33.6M439.7,31.9L440.0,32.1L440.4,32.5L440.9,33.2L441.4,34.3L441.6,34.9M442.5,37.9L442.7,38.8L443.2,40.7L443.4,41.8M444.1,44.9L444.1,45.0L444.6,47.3L444.9,49.0M445.6,52.1L446.0,54.0L446.4,56.1L446.4,56.1M447.1,59.3L447.3,60.4L447.8,62.6L447.9,63.3M448.6,66.4L448.7,66.8L449.2,68.7L449.6,70.3M450.5,73.4L450.6,73.6L451.0,75.0L451.5,76.3L451.8,77.1M453.1,79.8L453.3,80.3L453.8,81.0L454.2,81.7L454.7,82.3L455.0,82.7M457.0,84.2L457.0,84.3L457.5,84.5L457.9,84.6" fill="none" stroke="#0000ff" stroke-width="1.9" stroke-linejoin="round"/>
<path d="M265.2,82.2L265.7,82.2L266.1,82.2L266.6,82.1L267.0,82.1L267.5,82.1L268.0,82.1L268.0,82.1M270.2,82.0L270.3,82.0L270.7,82.0L271.2,82.0L271.6,82.0L272.1,82.0L272.6,82.0L273.0,82.0M275.2,82.1L275.3,82.1L275.8,82.1L276.2,82.1L276.7,82.2L277.2,82.2L277.6,82.3L278.0,82.4M280.1,83.2L280.4,83.3L280.8,83.6L281.3,84.0L281.8,84.3L282.2,84.8L282.6,85.1M284.3,87.2L284.5,87.5L285.0,88.2L285.4,89.0L285.9,89.9L286.1,90.4M287.1,93.3L287.3,93.8L287.7,95.4L288.2,97.2L288.2,97.2M289.0,100.2L289.1,100.6L289.6,102.4L290.0,104.2M290.8,107.3L291.0,108.1L291.4,110.2L291.6,111.2M292.3,114.4L292.3,114.6L292.8,116.9L293.1,118.4M293.7,121.6L294.2,123.8L294.5,125.6M295.2,128.8L295.6,130.5L296.0,132.4L296.1,132.7M296.9,135.8L296.9,136.0L297.4,137.5L297.9,138.9L298.1,139.6M299.4,142.3L299.7,142.9L300.2,143.3L300.6,142.8L301.1,142.0L301.4,141.5M302.7,138.8L302.9,138.3L303.4,137.2L303.8,136.1L304.2,135.3M305.3,132.4L305.7,131.1L306.1,129.6L306.4,128.5M307.1,125.4L307.5,123.7L308.0,121.5L308.0,121.4M308.6,118.3L308.9,117.1L309.4,114.7L309.4,114.3M310.1,111.1L310.3,110.0L310.7,107.9L310.9,107.1M311.6,104.0L311.7,103.7L312.1,101.7L312.5,100.0M313.2,96.8L313.5,95.3L314.0,93.1L314.0,92.8M314.8,89.8L314.9,89.6L315.3,88.1L315.8,86.9L316.2,86.1M317.7,83.9L318.1,83.7L318.6,83.5L319.0,83.3L319.5,83.2L319.9,83.1L320.4,83.1L320.5,83.1M322.7,83.0L322.7,83.0L323.2,83.0L323.6,82.9L324.1,82.9L324.5,82.9L325.0,82.9L325.5,82.9L325.5,82.9M327.7,82.8L327.8,82.8L328.2,82.8L328.7,82.8L329.1,82.8L329.6,82.8L330.1,82.7L330.5,82.7M332.7,82.7L332.8,82.7L333.3,82.7L333.7,82.7L334.2,82.7L334.7,82.7L335.1,82.7L335.5,82.7M337.7,82.8L337.9,82.8L338.3,82.8L338.8,82.8L339.2,82.9L339.7,82.9L340.2,83.0L340.5,83.0M342.7,83.2L342.9,83.2L343.4,83.3L343.8,83.3L344.3,83.3L344.8,83.4L345.2,83.4L345.5,83.5M347.7,83.7L348.0,83.7L348.4,83.8L348.9,83.8L349.4,83.9L349.8,83.9L350.3,84.0L350.5,84.0M352.6,84.3L353.0,84.4L353.5,84.4L354.0,84.5L354.4,84.6L354.9,84.6L355.3,84.7L355.4,84.7M357.6,85.0L357.6,85.0L358.1,85.0L358.6,85.0L359.0,85.0L359.5,85.1L359.9,85.1L360.4,85.1L360.4,85.1M362.6,84.9L362.7,84.9L363.2,84.9L363.6,84.8L364.1,84.8L364.5,84.7L365.0,84.6L365.4,84.6M367.6,84.3L367.8,84.2L368.2,84.2L368.7,84.1L369.1,84.0L369.6,84.0L370.1,83.9L370.4,83.9M372.6,83.7L372.8,83.7L373.3,83.7L373.7,83.7L374.2,83.7L374.7,83.6L375.1,83.6L375.4,83.6M377.6,83.5L377.9,83.5L378.3,83.5L378.8,83.5L379.3,83.5L379.7,83.5L380.2,83.4L380.4,83.4M382.6,83.4L382.9,83.4L383.4,83.4L383.9,83.4L384.3,83.3L384.8,83.3L385.2,83.3L385.4,83.3M387.6,83.3L388.0,83.3L388.5,83.3L388.9,83.3L389.4,83.3L389.8,83.4L390.3,83.4L390.4,83.4M392.6,83.6L392.6,83.6L393.1,83.7L393.5,83.8L394.0,83.8L394.4,83.9L394.9,84.0L395.4,84.1L395.4,84.1M397.6,84.4L397.7,84.4L398.1,84.5L398.6,84.6L399.0,84.6L399.5,84.7L400.0,84.8L400.3,84.8M402.5,85.0L402.7,85.0L403.2,85.0L403.6,85.1L404.1,85.1L404.6,85.1L405.0,85.1L405.3,85.0M407.5,84.9L407.8,84.9L408.2,84.9L408.7,84.8L409.2,84.8L409.6,84.7L410.1,84.7L410.3,84.7M412.5,84.4L412.8,84.3L413.3,84.3L413.8,84.2L414.2,84.1L414.7,84.0L415.1,83.9L415.3,83.8M417.4,83.1L417.9,82.9L418.4,82.7L418.8,82.5L419.3,82.3L419.7,82.0L420.1,81.8M422.0,80.2L422.0,80.2L422.5,79.8L423.0,79.2L423.4,78.7L423.9,78.0L424.2,77.6M425.6,75.0L425.7,74.7L426.2,73.6L426.6,72.5L427.0,71.4M428.1,68.5L428.5,67.4L428.9,65.9L429.3,64.7M430.2,61.7L430.3,61.2L430.8,59.5L431.2,57.8M431.9,54.7L432.2,53.8L432.6,51.9L432.9,50.8M433.7,47.7L434.0,46.4L434.5,44.7L434.7,43.8M435.5,40.7L435.8,39.6L436.3,38.1L436.7,36.9M437.8,34.0L438.1,33.2L438.6,32.6L439.1,32.1L439.5,31.9L440.0,32.1M441.4,34.5L441.8,35.6L442.3,37.2L442.6,38.3M443.4,41.4L443.7,42.7L444.1,45.0L444.2,45.4M444.8,48.5L445.0,49.6L445.5,51.8L445.6,52.6M446.3,55.7L446.4,56.1L446.9,58.2L447.2,59.7M447.8,62.8L448.3,64.7L448.7,66.8L448.7,66.8M449.5,69.9L449.6,70.5L450.1,72.1L450.6,73.6L450.6,73.8M451.6,76.7L451.9,77.4L452.4,78.5L452.9,79.4L453.2,80.1M454.8,82.4L455.2,82.9L455.6,83.3L456.1,83.6L456.5,84.0L457.0,84.3L457.3,84.4" fill="none" stroke="#ff00ff" stroke-width="1.9" stroke-linejoin="round"/>
<path d="M264.60,6.25H459.90" stroke="#2e2e2e" stroke-width="1.25"/>
<path d="M459.30,5.65V160.10" stroke="#2e2e2e" stroke-width="1.25"/>
<path d="M264.60,159.50H459.90" stroke="#2e2e2e" stroke-width="1.25"/>
<path d="M265.20,5.65V160.10" stroke="#2e2e2e" stroke-width="1.25"/>
<path d="M261.90,148.55H265.20M261.90,126.66H265.20M261.90,104.77H265.20M261.90,82.88H265.20M261.90,60.98H265.20M261.90,39.09H265.20M261.90,17.20H265.20M263.30,137.61H265.20M263.30,115.71H265.20M263.30,93.82H265.20M263.30,71.93H265.20M263.30,50.04H265.20M263.30,28.14H265.20M265.20,159.50V162.80M292.93,159.50V162.80M320.66,159.50V162.80M348.39,159.50V162.80M376.11,159.50V162.80M403.84,159.50V162.80M431.57,159.50V162.80M459.30,159.50V162.80M279.06,159.50V161.40M306.79,159.50V161.40M334.52,159.50V161.40M362.25,159.50V161.40M389.98,159.50V161.40M417.71,159.50V161.40M445.44,159.50V161.40" stroke="#111" stroke-width="1.3" fill="none"/>
<text x="259.70" y="151.30" font-size="9.3" text-anchor="end">-30</text>
<text x="259.70" y="129.41" font-size="9.3" text-anchor="end">-20</text>
<text x="259.70" y="107.52" font-size="9.3" text-anchor="end">-10</text>
<text x="259.70" y="85.62" font-size="9.3" text-anchor="end">0</text>
<text x="259.70" y="63.73" font-size="9.3" text-anchor="end">10</text>
<text x="259.70" y="41.84" font-size="9.3" text-anchor="end">20</text>
<text x="259.70" y="19.95" font-size="9.3" text-anchor="end">30</text>
<text x="265.20" y="172.40" font-size="9.3" text-anchor="middle">0</text>
<text x="292.93" y="172.40" font-size="9.3" text-anchor="middle">50</text>
<text x="320.66" y="172.40" font-size="9.3" text-anchor="middle">100</text>
<text x="348.39" y="172.40" font-size="9.3" text-anchor="middle">150</text>
<text x="376.11" y="172.40" font-size="9.3" text-anchor="middle">200</text>
<text x="403.84" y="172.40" font-size="9.3" text-anchor="middle">250</text>
<text x="431.57" y="172.40" font-size="9.3" text-anchor="middle">300</text>
<text x="459.30" y="172.40" font-size="9.3" text-anchor="middle">350</text>
<text x="272.20" y="20.00" font-size="10.95">UV/c-Al-1</text>
<path d="M271.00,29.40h22.6" stroke="#000" stroke-width="1.8"/>
<path d="M318.00,29.40h22.6" stroke="#ff0000" stroke-width="1.8" stroke-dasharray="3.1 1.77"/>
<path d="M271.00,41.10h22.6" stroke="#0000ff" stroke-width="1.8" stroke-dasharray="3.1 1.77"/>
<path d="M318.00,41.10h22.6" stroke="#ff00ff" stroke-width="1.8" stroke-dasharray="3.1 1.77"/>
<text x="296.20" y="32.50" font-size="9.3">10s</text>
<text x="342.60" y="32.50" font-size="9.3">300s</text>
<text x="296.20" y="44.20" font-size="9.3">900s</text>
<text x="342.60" y="44.20" font-size="9.3">1800s</text>
<text x="404.0" y="38.0" font-size="9.3">Anode</text>
<text x="308.0" y="139.1" font-size="9.3">Cathode</text>
<text x="362.85" y="182.90" font-size="10.9" text-anchor="middle">Thickness(µm)</text>
<text transform="translate(243.70,81.80) rotate(-90)" font-size="11.1" text-anchor="middle">Space charge density(Cm<tspan font-size="7.8" dy="-4.8">-3</tspan><tspan dy="4.8">)</tspan></text>
<text x="236.2" y="12.7" font-size="17">b</text>
<path d="M498.90,82.50H692.90" stroke="#111" stroke-width="1.05" stroke-dasharray="1.35 1.95" fill="none"/>
<path d="M529.20,82.45V159.00" stroke="#111" stroke-width="1.25" stroke-dasharray="1.35 2.0" fill="none"/>
<path d="M658.05,5.90V159.00" stroke="#111" stroke-width="1.25" stroke-dasharray="1.35 2.0" fill="none"/>
<path d="M498.9,82.5 L499.4,82.5 L499.8,82.5 L500.3,82.5 L500.8,82.5 L501.2,82.5 L501.7,82.5 L502.1,82.5 L502.6,82.5 L503.1,82.5 L503.5,82.5 L504.0,82.5 L504.5,82.5 L504.9,82.5 L505.4,82.5 L505.8,82.5 L506.3,82.5 L506.8,82.5 L507.2,82.6 L507.7,82.7 L508.2,82.7 L508.6,82.8 L509.1,82.9 L509.5,83.1 L510.0,83.2 L510.5,83.4 L510.9,83.6 L511.4,83.9 L511.9,84.2 L512.3,84.5 L512.8,85.0 L513.3,85.6 L513.7,86.3 L514.2,87.2 L514.6,88.1 L515.1,89.1 L515.6,90.2 L516.0,91.5 L516.5,93.0 L517.0,94.7 L517.4,96.6 L517.9,98.6 L518.3,100.6 L518.8,102.7 L519.3,104.8 L519.7,106.8 L520.2,108.8 L520.7,110.8 L521.1,113.0 L521.6,115.1 L522.1,117.3 L522.5,119.4 L523.0,121.6 L523.4,123.7 L523.9,125.8 L524.4,128.0 L524.8,130.2 L525.3,132.3 L525.8,134.2 L526.2,135.9 L526.7,137.5 L527.1,138.9 L527.6,140.0 L528.1,140.9 L528.5,141.7 L529.0,142.1 L529.5,142.0 L529.9,141.4 L530.4,140.6 L530.8,139.7 L531.3,138.6 L531.8,137.3 L532.2,135.9 L532.7,134.3 L533.2,132.6 L533.6,130.6 L534.1,128.4 L534.6,126.1 L535.0,123.7 L535.5,121.3 L535.9,118.8 L536.4,116.1 L536.9,113.4 L537.3,110.5 L537.8,107.7 L538.3,105.0 L538.7,102.5 L539.2,100.0 L539.6,97.6 L540.1,95.2 L540.6,93.0 L541.0,91.0 L541.5,89.2 L542.0,87.8 L542.4,86.4 L542.9,85.3 L543.3,84.4 L543.8,83.9 L544.3,83.4 L544.7,83.0 L545.2,82.7 L545.7,82.6 L546.1,82.6 L546.6,82.6 L547.1,82.5 L547.5,82.5 L548.0,82.4 L548.4,82.4 L548.9,82.4 L549.4,82.4 L549.8,82.4 L550.3,82.4 L550.8,82.3 L551.2,82.3 L551.7,82.3 L552.1,82.3 L552.6,82.3 L553.1,82.3 L553.5,82.3 L554.0,82.4 L554.5,82.4 L554.9,82.4 L555.4,82.4 L555.8,82.4 L556.3,82.4 L556.8,82.4 L557.2,82.4 L557.7,82.4 L558.2,82.4 L558.6,82.4 L559.1,82.5 L559.6,82.5 L560.0,82.6 L560.5,82.7 L560.9,82.8 L561.4,83.0 L561.9,83.1 L562.3,83.1 L562.8,83.2 L563.3,83.2 L563.7,83.2 L564.2,83.2 L564.6,83.1 L565.1,83.0 L565.6,82.9 L566.0,82.8 L566.5,82.7 L567.0,82.6 L567.4,82.6 L567.9,82.5 L568.4,82.5 L568.8,82.5 L569.3,82.5 L569.7,82.5 L570.2,82.5 L570.7,82.5 L571.1,82.5 L571.6,82.6 L572.1,82.6 L572.5,82.7 L573.0,82.7 L573.4,82.7 L573.9,82.8 L574.4,82.9 L574.8,83.0 L575.3,83.1 L575.8,83.3 L576.2,83.4 L576.7,83.6 L577.1,83.7 L577.6,83.7 L578.1,83.8 L578.5,83.7 L579.0,83.7 L579.5,83.6 L579.9,83.5 L580.4,83.4 L580.9,83.3 L581.3,83.2 L581.8,83.1 L582.2,83.1 L582.7,83.0 L583.2,83.0 L583.6,83.0 L584.1,83.0 L584.6,83.0 L585.0,83.0 L585.5,83.0 L585.9,83.0 L586.4,82.9 L586.9,82.9 L587.3,82.9 L587.8,82.9 L588.3,82.9 L588.7,82.9 L589.2,82.9 L589.6,82.9 L590.1,82.9 L590.6,82.9 L591.0,82.9 L591.5,82.9 L592.0,82.9 L592.4,82.9 L592.9,82.9 L593.4,82.9 L593.8,82.9 L594.3,82.9 L594.7,82.9 L595.2,82.9 L595.7,82.9 L596.1,82.9 L596.6,82.9 L597.1,82.9 L597.5,82.9 L598.0,83.0 L598.4,83.0 L598.9,83.0 L599.4,83.1 L599.8,83.1 L600.3,83.2 L600.8,83.2 L601.2,83.2 L601.7,83.3 L602.2,83.3 L602.6,83.4 L603.1,83.4 L603.5,83.5 L604.0,83.5 L604.5,83.6 L604.9,83.6 L605.4,83.6 L605.9,83.6 L606.3,83.6 L606.8,83.7 L607.2,83.6 L607.7,83.6 L608.2,83.6 L608.6,83.5 L609.1,83.4 L609.6,83.3 L610.0,83.2 L610.5,83.1 L610.9,83.0 L611.4,83.0 L611.9,82.9 L612.3,82.9 L612.8,82.9 L613.3,82.9 L613.7,82.9 L614.2,82.9 L614.7,82.9 L615.1,82.9 L615.6,82.9 L616.0,82.9 L616.5,82.9 L617.0,82.9 L617.4,82.9 L617.9,82.9 L618.4,82.9 L618.8,82.9 L619.3,82.9 L619.7,82.9 L620.2,83.0 L620.7,83.0 L621.1,83.0 L621.6,83.0 L622.1,83.0 L622.5,83.0 L623.0,83.0 L623.4,83.0 L623.9,83.0 L624.4,83.0 L624.8,83.0 L625.3,83.0 L625.8,83.0 L626.2,83.0 L626.7,83.0 L627.2,83.0 L627.6,83.0 L628.1,83.0 L628.5,83.0 L629.0,83.0 L629.5,83.0 L629.9,83.0 L630.4,83.0 L630.9,83.0 L631.3,83.0 L631.8,83.0 L632.2,83.0 L632.7,83.0 L633.2,83.0 L633.6,83.0 L634.1,82.9 L634.6,82.9 L635.0,82.9 L635.5,82.9 L636.0,82.9 L636.4,82.9 L636.9,82.9 L637.3,82.9 L637.8,82.9 L638.3,82.8 L638.7,82.8 L639.2,82.7 L639.7,82.6 L640.1,82.5 L640.6,82.3 L641.0,82.1 L641.5,81.8 L642.0,81.2 L642.4,80.6 L642.9,80.0 L643.4,79.3 L643.8,78.5 L644.3,77.7 L644.7,76.7 L645.2,75.6 L645.7,74.4 L646.1,73.1 L646.6,71.5 L647.1,69.7 L647.5,67.8 L648.0,65.8 L648.5,63.7 L648.9,61.6 L649.4,59.6 L649.8,57.7 L650.3,55.7 L650.8,53.7 L651.2,51.7 L651.7,49.7 L652.2,47.7 L652.6,45.9 L653.1,44.2 L653.5,42.7 L654.0,41.3 L654.5,40.0 L654.9,38.8 L655.4,37.7 L655.9,36.9 L656.3,36.5 L656.8,36.1 L657.2,35.8 L657.7,35.6 L658.2,35.8 L658.6,36.1 L659.1,36.7 L659.6,37.3 L660.0,38.0 L660.5,39.1 L661.0,40.3 L661.4,41.7 L661.9,43.0 L662.3,44.5 L662.8,46.2 L663.3,48.0 L663.7,49.9 L664.2,51.8 L664.7,53.7 L665.1,55.6 L665.6,57.4 L666.0,59.1 L666.5,60.9 L667.0,62.7 L667.4,64.5 L667.9,66.3 L668.4,68.0 L668.8,69.6 L669.3,71.1 L669.7,72.4 L670.2,73.7 L670.7,74.9 L671.1,76.1 L671.6,77.1 L672.1,78.0 L672.5,78.7 L673.0,79.4 L673.5,80.0 L673.9,80.5 L674.4,80.9 L674.8,81.3 L675.3,81.7 L675.8,82.0 L676.2,82.3 L676.7,82.6 L677.2,82.8 L677.6,82.9 L678.1,82.9 L678.5,82.8 L679.0,82.8 L679.5,82.7 L679.9,82.6 L680.4,82.5 L680.9,82.4 L681.3,82.3 L681.8,82.2 L682.3,82.1 L682.7,82.1 L683.2,82.0 L683.6,82.0 L684.1,82.0 L684.6,82.0 L685.0,82.0 L685.5,82.0 L686.0,82.1 L686.4,82.1 L686.9,82.1 L687.3,82.1 L687.8,82.2 L688.3,82.2 L688.7,82.2 L689.2,82.2 L689.7,82.3 L690.1,82.3 L690.6,82.4 L691.0,82.5 L691.5,82.6 L692.0,82.7 L692.4,82.8 L692.9,82.9" fill="none" stroke="#000000" stroke-width="1.9" stroke-linejoin="round"/>
<path d="M498.9,82.5L499.4,82.5L499.8,82.5L500.3,82.5L500.8,82.5L501.2,82.5L501.7,82.5L501.8,82.5M503.9,82.5L504.0,82.5L504.5,82.5L504.9,82.5L505.4,82.5L505.8,82.5L506.3,82.5L506.8,82.5L506.8,82.5M508.9,82.9L509.1,82.9L509.5,83.1L510.0,83.2L510.5,83.4L510.9,83.6L511.4,83.9L511.7,84.1M513.4,85.8L513.7,86.3L514.2,87.2L514.6,88.1L515.1,89.1L515.2,89.2M516.2,92.0L516.5,93.0L517.0,94.7L517.3,96.0M518.0,99.0L518.3,100.6L518.8,102.7L518.9,103.1M519.6,106.1L519.7,106.8L520.2,108.8L520.5,110.2M521.2,113.2L521.6,115.1L522.1,117.3L522.1,117.3M522.7,120.3L523.0,121.6L523.4,123.7L523.6,124.5M524.2,127.5L524.4,128.0L524.8,130.2L525.1,131.6M525.9,134.6L526.2,135.9L526.7,137.5L527.0,138.5M528.2,141.1L528.5,141.7L529.0,142.1L529.5,142.0L529.9,141.4L530.4,140.6L530.4,140.5M531.6,137.9L531.8,137.3L532.2,135.9L532.7,134.3L532.8,133.9M533.5,131.0L533.6,130.6L534.1,128.4L534.4,126.8M535.0,123.8L535.0,123.7L535.5,121.3L535.8,119.6M536.3,116.6L536.4,116.1L536.9,113.4L537.0,112.4M537.5,109.3L537.8,107.7L538.2,105.1M538.8,102.1L539.2,100.0L539.6,97.9M540.2,94.9L540.6,93.0L541.0,91.0L541.1,90.7M541.9,87.8L542.0,87.8L542.4,86.4L542.9,85.3L543.3,84.4L543.5,84.2M545.3,82.7L545.7,82.6L546.1,82.6L546.6,82.6L547.1,82.5L547.5,82.5L548.0,82.4L548.2,82.4M550.3,82.4L550.8,82.3L551.2,82.3L551.7,82.3L552.1,82.3L552.6,82.3L553.1,82.3L553.2,82.3M555.3,82.4L555.4,82.4L555.8,82.4L556.3,82.4L556.8,82.4L557.2,82.4L557.7,82.4L558.2,82.4L558.2,82.4M560.3,82.7L560.5,82.7L560.9,82.8L561.4,83.0L561.9,83.1L562.3,83.1L562.8,83.2L563.2,83.2M565.3,83.0L565.6,82.9L566.0,82.8L566.5,82.7L567.0,82.6L567.4,82.6L567.9,82.5L568.2,82.5M570.3,82.5L570.7,82.5L571.1,82.5L571.6,82.6L572.1,82.6L572.5,82.7L573.0,82.7L573.2,82.7M575.2,83.1L575.3,83.1L575.8,83.3L576.2,83.4L576.7,83.6L577.1,83.7L577.6,83.7L578.1,83.8L578.1,83.8M580.2,83.5L580.4,83.4L580.9,83.3L581.3,83.2L581.8,83.1L582.2,83.1L582.7,83.0L583.1,83.0M585.2,83.0L585.5,83.0L585.9,83.0L586.4,82.9L586.9,82.9L587.3,82.9L587.8,82.9L588.1,82.9M590.2,82.9L590.6,82.9L591.0,82.9L591.5,82.9L592.0,82.9L592.4,82.9L592.9,82.9L593.1,82.9M595.2,82.9L595.2,82.9L595.7,82.9L596.1,82.9L596.6,82.9L597.1,82.9L597.5,82.9L598.0,83.0L598.1,83.0M600.2,83.1L600.3,83.2L600.8,83.2L601.2,83.2L601.7,83.3L602.2,83.3L602.6,83.4L603.1,83.4M605.2,83.6L605.4,83.6L605.9,83.6L606.3,83.6L606.8,83.7L607.2,83.6L607.7,83.6L608.0,83.6M610.1,83.2L610.5,83.1L610.9,83.0L611.4,83.0L611.9,82.9L612.3,82.9L612.8,82.9L613.0,82.9M615.1,82.9L615.6,82.9L616.0,82.9L616.5,82.9L617.0,82.9L617.4,82.9L617.9,82.9L618.0,82.9M620.1,82.9L620.2,83.0L620.7,83.0L621.1,83.0L621.6,83.0L622.1,83.0L622.5,83.0L623.0,83.0L623.0,83.0M625.1,83.0L625.3,83.0L625.8,83.0L626.2,83.0L626.7,83.0L627.2,83.0L627.6,83.0L628.0,83.0M630.1,83.0L630.4,83.0L630.9,83.0L631.3,83.0L631.8,83.0L632.2,83.0L632.7,83.0L633.0,83.0M635.1,82.9L635.5,82.9L636.0,82.9L636.4,82.9L636.9,82.9L637.3,82.9L637.8,82.9L638.0,82.9M640.1,82.5L640.1,82.5L640.6,82.3L641.0,82.1L641.5,81.8L642.0,81.2L642.4,80.6L642.6,80.4M644.0,78.1L644.3,77.7L644.7,76.7L645.2,75.6L645.6,74.5M646.6,71.7L646.6,71.5L647.1,69.7L647.5,67.8L647.6,67.6M648.2,64.6L648.5,63.7L648.9,61.6L649.2,60.5M649.9,57.5L650.3,55.7L650.8,53.7L650.8,53.4M651.5,50.4L651.7,49.7L652.2,47.7L652.5,46.4M653.3,43.4L653.5,42.7L654.0,41.3L654.5,40.0L654.6,39.6M655.8,37.0L655.9,36.9L656.3,36.5L656.8,36.1L657.2,35.8L657.7,35.6L658.2,35.8L658.4,36.0M660.0,38.0L660.5,39.1L661.0,40.3L661.4,41.7L661.5,41.8M662.4,44.6L662.8,46.2L663.3,48.0L663.4,48.7M664.2,51.6L664.2,51.8L664.7,53.7L665.1,55.6L665.2,55.7M665.9,58.7L666.0,59.1L666.5,60.9L667.0,62.7L667.0,62.7M667.7,65.7L667.9,66.3L668.4,68.0L668.8,69.6L668.9,69.7M669.8,72.5L670.2,73.7L670.7,74.9L671.1,76.1L671.2,76.3M672.5,78.7L673.0,79.4L673.5,80.0L673.9,80.5L674.4,80.9L674.8,81.3L674.8,81.3M676.8,82.6L677.2,82.8L677.6,82.9L678.1,82.9L678.5,82.8L679.0,82.8L679.5,82.7L679.6,82.7M681.7,82.2L681.8,82.2L682.3,82.1L682.7,82.1L683.2,82.0L683.6,82.0L684.1,82.0L684.6,82.0L684.6,82.0M686.7,82.1L686.9,82.1L687.3,82.1L687.8,82.2L688.3,82.2L688.7,82.2L689.2,82.2L689.6,82.3M691.7,82.6L692.0,82.7L692.4,82.8L692.9,82.9" fill="none" stroke="#ff0000" stroke-width="1.9" stroke-linejoin="round"/>
<path d="M498.9,82.5L499.4,82.5L499.8,82.5L500.3,82.5L500.8,82.5L501.2,82.5L501.7,82.5L501.8,82.5M503.9,82.5L504.0,82.5L504.5,82.5L504.9,82.5L505.4,82.5L505.8,82.5L506.3,82.5L506.8,82.5L506.8,82.5M508.9,82.9L509.1,82.9L509.5,83.1L510.0,83.2L510.5,83.4L510.9,83.6L511.4,83.9L511.7,84.1M513.4,85.8L513.7,86.3L514.2,87.2L514.6,88.1L515.1,89.1L515.2,89.2M516.2,92.0L516.5,93.0L517.0,94.7L517.3,96.0M518.0,99.0L518.3,100.6L518.8,102.7L518.9,103.1M519.6,106.1L519.7,106.8L520.2,108.8L520.5,110.2M521.2,113.2L521.6,115.1L522.1,117.3L522.1,117.3M522.7,120.3L523.0,121.6L523.4,123.7L523.6,124.5M524.2,127.5L524.4,128.0L524.8,130.2L525.1,131.6M525.9,134.6L526.2,135.9L526.7,137.5L527.0,138.5M528.2,141.1L528.5,141.7L529.0,142.1L529.5,142.0L529.9,141.4L530.4,140.6L530.4,140.5M531.6,137.9L531.8,137.3L532.2,135.9L532.7,134.3L532.8,133.9M533.5,131.0L533.6,130.6L534.1,128.4L534.4,126.8M535.0,123.8L535.0,123.7L535.5,121.3L535.8,119.6M536.3,116.6L536.4,116.1L536.9,113.4L537.0,112.4M537.5,109.3L537.8,107.7L538.2,105.1M538.8,102.1L539.2,100.0L539.6,97.9M540.2,94.9L540.6,93.0L541.0,91.0L541.1,90.7M541.9,87.8L542.0,87.8L542.4,86.4L542.9,85.3L543.3,84.4L543.5,84.2M545.3,82.7L545.7,82.6L546.1,82.6L546.6,82.6L547.1,82.5L547.5,82.5L548.0,82.4L548.2,82.4M550.3,82.4L550.8,82.3L551.2,82.3L551.7,82.3L552.1,82.3L552.6,82.3L553.1,82.3L553.2,82.3M555.3,82.4L555.4,82.4L555.8,82.4L556.3,82.4L556.8,82.4L557.2,82.4L557.7,82.4L558.2,82.4L558.2,82.4M560.3,82.7L560.5,82.7L560.9,82.8L561.4,83.0L561.9,83.1L562.3,83.1L562.8,83.2L563.2,83.2M565.3,83.0L565.6,82.9L566.0,82.8L566.5,82.7L567.0,82.6L567.4,82.6L567.9,82.5L568.2,82.5M570.3,82.5L570.7,82.5L571.1,82.5L571.6,82.6L572.1,82.6L572.5,82.7L573.0,82.7L573.2,82.7M575.2,83.1L575.3,83.1L575.8,83.3L576.2,83.4L576.7,83.6L577.1,83.7L577.6,83.7L578.1,83.8L578.1,83.8M580.2,83.5L580.4,83.4L580.9,83.3L581.3,83.2L581.8,83.1L582.2,83.1L582.7,83.0L583.1,83.0M585.2,83.0L585.5,83.0L585.9,83.0L586.4,82.9L586.9,82.9L587.3,82.9L587.8,82.9L588.1,82.9M590.2,82.9L590.6,82.9L591.0,82.9L591.5,82.9L592.0,82.9L592.4,82.9L592.9,82.9L593.1,82.9M595.2,82.9L595.2,82.9L595.7,82.9L596.1,82.9L596.6,82.9L597.1,82.9L597.5,82.9L598.0,83.0L598.1,83.0M600.2,83.1L600.3,83.2L600.8,83.2L601.2,83.2L601.7,83.3L602.2,83.3L602.6,83.4L603.1,83.4M605.2,83.6L605.4,83.6L605.9,83.6L606.3,83.6L606.8,83.7L607.2,83.6L607.7,83.6L608.0,83.6M610.1,83.2L610.5,83.1L610.9,83.0L611.4,83.0L611.9,82.9L612.3,82.9L612.8,82.9L613.0,82.9M615.1,82.9L615.6,82.9L616.0,82.9L616.5,82.9L617.0,82.9L617.4,82.9L617.9,82.9L618.0,82.9M620.1,82.9L620.2,83.0L620.7,83.0L621.1,83.0L621.6,83.0L622.1,83.0L622.5,83.0L623.0,83.0L623.0,83.0M625.1,83.0L625.3,83.0L625.8,83.0L626.2,83.0L626.7,83.0L627.2,83.0L627.6,83.0L628.0,83.0M630.1,83.0L630.4,83.0L630.9,83.0L631.3,83.0L631.8,83.0L632.2,83.0L632.7,83.0L633.0,83.0M635.1,82.9L635.5,82.9L636.0,82.9L636.4,82.9L636.9,82.9L637.3,82.9L637.8,82.9L638.0,82.9M640.1,82.5L640.1,82.5L640.6,82.3L641.0,82.1L641.5,81.8L642.0,81.2L642.4,80.6L642.6,80.4M644.0,78.1L644.3,77.7L644.7,76.7L645.2,75.6L645.6,74.5M646.6,71.7L646.6,71.5L647.1,69.7L647.5,67.8L647.6,67.6M648.2,64.6L648.5,63.7L648.9,61.6L649.2,60.5M649.9,57.5L650.3,55.7L650.8,53.7L650.8,53.4M651.5,50.4L651.7,49.7L652.2,47.7L652.5,46.4M653.3,43.4L653.5,42.7L654.0,41.3L654.5,40.0L654.6,39.6M655.8,37.0L655.9,36.9L656.3,36.5L656.8,36.1L657.2,35.8L657.7,35.6L658.2,35.8L658.4,36.0M660.0,38.0L660.5,39.1L661.0,40.3L661.4,41.7L661.5,41.8M662.4,44.6L662.8,46.2L663.3,48.0L663.4,48.7M664.2,51.6L664.2,51.8L664.7,53.7L665.1,55.6L665.2,55.7M665.9,58.7L666.0,59.1L666.5,60.9L667.0,62.7L667.0,62.7M667.7,65.7L667.9,66.3L668.4,68.0L668.8,69.6L668.9,69.7M669.8,72.5L670.2,73.7L670.7,74.9L671.1,76.1L671.2,76.3M672.5,78.7L673.0,79.4L673.5,80.0L673.9,80.5L674.4,80.9L674.8,81.3L674.8,81.3M676.8,82.6L677.2,82.8L677.6,82.9L678.1,82.9L678.5,82.8L679.0,82.8L679.5,82.7L679.6,82.7M681.7,82.2L681.8,82.2L682.3,82.1L682.7,82.1L683.2,82.0L683.6,82.0L684.1,82.0L684.6,82.0L684.6,82.0M686.7,82.1L686.9,82.1L687.3,82.1L687.8,82.2L688.3,82.2L688.7,82.2L689.2,82.2L689.6,82.3M691.7,82.6L692.0,82.7L692.4,82.8L692.9,82.9" fill="none" stroke="#0000ff" stroke-width="1.9" stroke-linejoin="round"/>
<path d="M498.9,82.5L499.4,82.5L499.8,82.5L500.3,82.5L500.8,82.5L501.2,82.5L501.7,82.5L501.8,82.5M503.9,82.5L504.0,82.5L504.5,82.5L504.9,82.5L505.4,82.5L505.8,82.5L506.3,82.5L506.8,82.5L506.8,82.5M508.9,82.9L509.1,82.9L509.5,83.1L510.0,83.2L510.5,83.4L510.9,83.6L511.4,83.9L511.7,84.1M513.4,85.8L513.7,86.3L514.2,87.2L514.6,88.1L515.1,89.1L515.2,89.2M516.2,92.0L516.5,93.0L517.0,94.7L517.3,96.0M518.0,99.0L518.3,100.6L518.8,102.7L518.9,103.1M519.6,106.1L519.7,106.8L520.2,108.8L520.5,110.2M521.2,113.2L521.6,115.1L522.1,117.3L522.1,117.3M522.7,120.3L523.0,121.6L523.4,123.7L523.6,124.5M524.2,127.5L524.4,128.0L524.8,130.2L525.1,131.6M525.9,134.6L526.2,135.9L526.7,137.5L527.0,138.5M528.2,141.1L528.5,141.7L529.0,142.1L529.5,142.0L529.9,141.4L530.4,140.6L530.4,140.5M531.6,137.9L531.8,137.3L532.2,135.9L532.7,134.3L532.8,133.9M533.5,131.0L533.6,130.6L534.1,128.4L534.4,126.8M535.0,123.8L535.0,123.7L535.5,121.3L535.8,119.6M536.3,116.6L536.4,116.1L536.9,113.4L537.0,112.4M537.5,109.3L537.8,107.7L538.2,105.1M538.8,102.1L539.2,100.0L539.6,97.9M540.2,94.9L540.6,93.0L541.0,91.0L541.1,90.7M541.9,87.8L542.0,87.8L542.4,86.4L542.9,85.3L543.3,84.4L543.5,84.2M545.3,82.7L545.7,82.6L546.1,82.6L546.6,82.6L547.1,82.5L547.5,82.5L548.0,82.4L548.2,82.4M550.3,82.4L550.8,82.3L551.2,82.3L551.7,82.3L552.1,82.3L552.6,82.3L553.1,82.3L553.2,82.3M555.3,82.4L555.4,82.4L555.8,82.4L556.3,82.4L556.8,82.4L557.2,82.4L557.7,82.4L558.2,82.4L558.2,82.4M560.3,82.7L560.5,82.7L560.9,82.8L561.4,83.0L561.9,83.1L562.3,83.1L562.8,83.2L563.2,83.2M565.3,83.0L565.6,82.9L566.0,82.8L566.5,82.7L567.0,82.6L567.4,82.6L567.9,82.5L568.2,82.5M570.3,82.5L570.7,82.5L571.1,82.5L571.6,82.6L572.1,82.6L572.5,82.7L573.0,82.7L573.2,82.7M575.2,83.1L575.3,83.1L575.8,83.3L576.2,83.4L576.7,83.6L577.1,83.7L577.6,83.7L578.1,83.8L578.1,83.8M580.2,83.5L580.4,83.4L580.9,83.3L581.3,83.2L581.8,83.1L582.2,83.1L582.7,83.0L583.1,83.0M585.2,83.0L585.5,83.0L585.9,83.0L586.4,82.9L586.9,82.9L587.3,82.9L587.8,82.9L588.1,82.9M590.2,82.9L590.6,82.9L591.0,82.9L591.5,82.9L592.0,82.9L592.4,82.9L592.9,82.9L593.1,82.9M595.2,82.9L595.2,82.9L595.7,82.9L596.1,82.9L596.6,82.9L597.1,82.9L597.5,82.9L598.0,83.0L598.1,83.0M600.2,83.1L600.3,83.2L600.8,83.2L601.2,83.2L601.7,83.3L602.2,83.3L602.6,83.4L603.1,83.4M605.2,83.6L605.4,83.6L605.9,83.6L606.3,83.6L606.8,83.7L607.2,83.6L607.7,83.6L608.0,83.6M610.1,83.2L610.5,83.1L610.9,83.0L611.4,83.0L611.9,82.9L612.3,82.9L612.8,82.9L613.0,82.9M615.1,82.9L615.6,82.9L616.0,82.9L616.5,82.9L617.0,82.9L617.4,82.9L617.9,82.9L618.0,82.9M620.1,82.9L620.2,83.0L620.7,83.0L621.1,83.0L621.6,83.0L622.1,83.0L622.5,83.0L623.0,83.0L623.0,83.0M625.1,83.0L625.3,83.0L625.8,83.0L626.2,83.0L626.7,83.0L627.2,83.0L627.6,83.0L628.0,83.0M630.1,83.0L630.4,83.0L630.9,83.0L631.3,83.0L631.8,83.0L632.2,83.0L632.7,83.0L633.0,83.0M635.1,82.9L635.5,82.9L636.0,82.9L636.4,82.9L636.9,82.9L637.3,82.9L637.8,82.9L638.0,82.9M640.1,82.5L640.1,82.5L640.6,82.3L641.0,82.1L641.5,81.8L642.0,81.2L642.4,80.6L642.6,80.4M644.0,78.1L644.3,77.7L644.7,76.7L645.2,75.6L645.6,74.5M646.6,71.7L646.6,71.5L647.1,69.7L647.5,67.8L647.6,67.6M648.2,64.6L648.5,63.7L648.9,61.6L649.2,60.5M649.9,57.5L650.3,55.7L650.8,53.7L650.8,53.4M651.5,50.4L651.7,49.7L652.2,47.7L652.5,46.4M653.3,43.4L653.5,42.7L654.0,41.3L654.5,40.0L654.6,39.6M655.8,37.0L655.9,36.9L656.3,36.5L656.8,36.1L657.2,35.8L657.7,35.6L658.2,35.8L658.4,36.0M660.0,38.0L660.5,39.1L661.0,40.3L661.4,41.7L661.5,41.8M662.4,44.6L662.8,46.2L663.3,48.0L663.4,48.7M664.2,51.6L664.2,51.8L664.7,53.7L665.1,55.6L665.2,55.7M665.9,58.7L666.0,59.1L666.5,60.9L667.0,62.7L667.0,62.7M667.7,65.7L667.9,66.3L668.4,68.0L668.8,69.6L668.9,69.7M669.8,72.5L670.2,73.7L670.7,74.9L671.1,76.1L671.2,76.3M672.5,78.7L673.0,79.4L673.5,80.0L673.9,80.5L674.4,80.9L674.8,81.3L674.8,81.3M676.8,82.6L677.2,82.8L677.6,82.9L678.1,82.9L678.5,82.8L679.0,82.8L679.5,82.7L679.6,82.7M681.7,82.2L681.8,82.2L682.3,82.1L682.7,82.1L683.2,82.0L683.6,82.0L684.1,82.0L684.6,82.0L684.6,82.0M686.7,82.1L686.9,82.1L687.3,82.1L687.8,82.2L688.3,82.2L688.7,82.2L689.2,82.2L689.6,82.3M691.7,82.6L692.0,82.7L692.4,82.8L692.9,82.9" fill="none" stroke="#ff00ff" stroke-width="1.9" stroke-linejoin="round"/>
<path d="M498.30,5.90H693.50" stroke="#2e2e2e" stroke-width="1.25"/>
<path d="M692.90,5.30V159.60" stroke="#2e2e2e" stroke-width="1.25"/>
<path d="M498.30,159.00H693.50" stroke="#2e2e2e" stroke-width="1.25"/>
<path d="M498.90,5.30V159.60" stroke="#2e2e2e" stroke-width="1.25"/>
<path d="M495.60,148.06H498.90M495.60,126.19H498.90M495.60,104.32H498.90M495.60,82.45H498.90M495.60,60.58H498.90M495.60,38.71H498.90M495.60,16.84H498.90M497.00,137.13H498.90M497.00,115.26H498.90M497.00,93.39H498.90M497.00,71.51H498.90M497.00,49.64H498.90M497.00,27.77H498.90M498.90,159.00V162.30M526.61,159.00V162.30M554.33,159.00V162.30M582.04,159.00V162.30M609.76,159.00V162.30M637.47,159.00V162.30M665.19,159.00V162.30M692.90,159.00V162.30M512.76,159.00V160.90M540.47,159.00V160.90M568.19,159.00V160.90M595.90,159.00V160.90M623.61,159.00V160.90M651.33,159.00V160.90M679.04,159.00V160.90" stroke="#111" stroke-width="1.3" fill="none"/>
<text x="493.40" y="150.81" font-size="9.3" text-anchor="end">-30</text>
<text x="493.40" y="128.94" font-size="9.3" text-anchor="end">-20</text>
<text x="493.40" y="107.07" font-size="9.3" text-anchor="end">-10</text>
<text x="493.40" y="85.20" font-size="9.3" text-anchor="end">0</text>
<text x="493.40" y="63.33" font-size="9.3" text-anchor="end">10</text>
<text x="493.40" y="41.46" font-size="9.3" text-anchor="end">20</text>
<text x="493.40" y="19.59" font-size="9.3" text-anchor="end">30</text>
<text x="498.90" y="171.90" font-size="9.3" text-anchor="middle">0</text>
<text x="526.61" y="171.90" font-size="9.3" text-anchor="middle">50</text>
<text x="554.33" y="171.90" font-size="9.3" text-anchor="middle">100</text>
<text x="582.04" y="171.90" font-size="9.3" text-anchor="middle">150</text>
<text x="609.76" y="171.90" font-size="9.3" text-anchor="middle">200</text>
<text x="637.47" y="171.90" font-size="9.3" text-anchor="middle">250</text>
<text x="665.19" y="171.90" font-size="9.3" text-anchor="middle">300</text>
<text x="692.90" y="171.90" font-size="9.3" text-anchor="middle">350</text>
<text x="506.60" y="20.50" font-size="10.95">UV/h-Al-1</text>
<path d="M505.50,29.70h22.6" stroke="#000" stroke-width="1.4"/>
<path d="M552.20,29.70h22.6" stroke="#ff0000" stroke-width="1.8" stroke-dasharray="3.1 1.77"/>
<path d="M505.50,41.60h22.6" stroke="#0000ff" stroke-width="1.8" stroke-dasharray="3.1 1.77"/>
<path d="M552.20,41.60h22.6" stroke="#ff00ff" stroke-width="1.8" stroke-dasharray="3.1 1.77"/>
<text x="530.70" y="32.80" font-size="9.3">10s</text>
<text x="577.00" y="32.80" font-size="9.3">300s</text>
<text x="530.70" y="44.70" font-size="9.3">900s</text>
<text x="577.00" y="44.70" font-size="9.3">1800s</text>
<text x="626.0" y="36.2" font-size="9.3">Anode</text>
<text x="535.3" y="142.0" font-size="9.3">Cathode</text>
<text x="594.60" y="182.90" font-size="10.9" text-anchor="middle">Thickness(µm)</text>
<text transform="translate(477.50,81.90) rotate(-90)" font-size="11.1" text-anchor="middle">Space charge density(Cm<tspan font-size="7.8" dy="-4.8">-3</tspan><tspan dy="4.8">)</tspan></text>
<text x="469.8" y="10.7" font-size="17">c</text>
<path d="M57.90,189.70V342.80" stroke="#111" stroke-width="1.25" stroke-dasharray="1.35 2.0" fill="none"/>
<path d="M202.10,189.70V342.80" stroke="#111" stroke-width="1.25" stroke-dasharray="1.35 2.0" fill="none"/>
<path d="M31.00,307.50H224.80" stroke="#ff0000" stroke-width="1.05" stroke-dasharray="1.6 1.7" fill="none"/>
<path d="M31.00,329.00H224.80" stroke="#ff0000" stroke-width="2.0" stroke-dasharray="1.7 1.6" fill="none"/>
<path d="M31.0,213.3 L31.5,213.3 L31.9,213.3 L32.4,213.3 L32.8,213.3 L33.3,213.3 L33.7,213.3 L34.2,213.3 L34.6,213.3 L35.1,213.3 L35.6,213.3 L36.0,213.3 L36.5,213.3 L36.9,213.3 L37.4,213.3 L37.8,213.3 L38.3,213.3 L38.7,213.3 L39.2,213.3 L39.6,213.4 L40.1,213.5 L40.6,213.7 L41.0,213.9 L41.5,214.1 L41.9,214.3 L42.4,214.6 L42.8,214.9 L43.3,215.2 L43.7,215.7 L44.2,216.1 L44.7,216.6 L45.1,217.1 L45.6,217.7 L46.0,218.3 L46.5,219.1 L46.9,219.8 L47.4,220.7 L47.8,221.6 L48.3,222.6 L48.7,223.6 L49.2,224.7 L49.7,225.9 L50.1,227.2 L50.6,228.6 L51.0,230.2 L51.5,231.8 L51.9,233.5 L52.4,235.3 L52.8,237.2 L53.3,239.2 L53.8,241.4 L54.2,243.8 L54.7,246.3 L55.1,248.9 L55.6,251.5 L56.0,254.1 L56.5,256.8 L56.9,259.5 L57.4,262.2 L57.9,264.9 L58.3,267.7 L58.8,270.4 L59.2,273.0 L59.7,275.6 L60.1,278.2 L60.6,280.8 L61.0,283.3 L61.5,285.7 L61.9,288.0 L62.4,290.1 L62.9,292.1 L63.3,294.0 L63.8,295.9 L64.2,297.7 L64.7,299.3 L65.1,300.9 L65.6,302.5 L66.0,303.9 L66.5,305.3 L67.0,306.6 L67.4,307.7 L67.9,308.7 L68.3,309.6 L68.8,310.4 L69.2,311.0 L69.7,311.6 L70.1,312.0 L70.6,312.4 L71.1,312.8 L71.5,313.1 L72.0,313.3 L72.4,313.5 L72.9,313.7 L73.3,313.8 L73.8,314.0 L74.2,314.1 L74.7,314.2 L75.1,314.3 L75.6,314.4 L76.1,314.5 L76.5,314.6 L77.0,314.6 L77.4,314.7 L77.9,314.8 L78.3,314.8 L78.8,314.9 L79.2,315.0 L79.7,315.0 L80.2,315.1 L80.6,315.1 L81.1,315.2 L81.5,315.2 L82.0,315.2 L82.4,315.3 L82.9,315.3 L83.3,315.4 L83.8,315.4 L84.2,315.4 L84.7,315.5 L85.2,315.5 L85.6,315.5 L86.1,315.5 L86.5,315.6 L87.0,315.6 L87.4,315.6 L87.9,315.6 L88.3,315.6 L88.8,315.6 L89.3,315.7 L89.7,315.7 L90.2,315.7 L90.6,315.7 L91.1,315.7 L91.5,315.7 L92.0,315.8 L92.4,315.8 L92.9,315.8 L93.4,315.8 L93.8,315.8 L94.3,315.8 L94.7,315.8 L95.2,315.8 L95.6,315.8 L96.1,315.9 L96.5,315.9 L97.0,315.9 L97.4,315.9 L97.9,315.9 L98.4,315.9 L98.8,315.9 L99.3,315.9 L99.7,316.0 L100.2,316.0 L100.6,316.0 L101.1,316.0 L101.5,316.0 L102.0,316.0 L102.5,316.1 L102.9,316.1 L103.4,316.1 L103.8,316.1 L104.3,316.1 L104.7,316.2 L105.2,316.2 L105.6,316.2 L106.1,316.2 L106.6,316.3 L107.0,316.3 L107.5,316.3 L107.9,316.4 L108.4,316.4 L108.8,316.4 L109.3,316.5 L109.7,316.5 L110.2,316.6 L110.6,316.6 L111.1,316.7 L111.6,316.7 L112.0,316.8 L112.5,316.8 L112.9,316.9 L113.4,316.9 L113.8,317.0 L114.3,317.1 L114.7,317.1 L115.2,317.2 L115.7,317.2 L116.1,317.3 L116.6,317.4 L117.0,317.4 L117.5,317.5 L117.9,317.5 L118.4,317.6 L118.8,317.7 L119.3,317.7 L119.7,317.8 L120.2,317.9 L120.7,317.9 L121.1,318.0 L121.6,318.1 L122.0,318.1 L122.5,318.2 L122.9,318.2 L123.4,318.3 L123.8,318.4 L124.3,318.4 L124.8,318.5 L125.2,318.5 L125.7,318.6 L126.1,318.7 L126.6,318.7 L127.0,318.8 L127.5,318.8 L127.9,318.9 L128.4,319.0 L128.9,319.0 L129.3,319.1 L129.8,319.2 L130.2,319.2 L130.7,319.3 L131.1,319.4 L131.6,319.4 L132.0,319.5 L132.5,319.6 L132.9,319.6 L133.4,319.7 L133.9,319.8 L134.3,319.8 L134.8,319.9 L135.2,320.0 L135.7,320.0 L136.1,320.1 L136.6,320.2 L137.0,320.2 L137.5,320.3 L138.0,320.4 L138.4,320.4 L138.9,320.5 L139.3,320.6 L139.8,320.6 L140.2,320.7 L140.7,320.7 L141.1,320.8 L141.6,320.9 L142.1,320.9 L142.5,321.0 L143.0,321.1 L143.4,321.1 L143.9,321.2 L144.3,321.2 L144.8,321.3 L145.2,321.4 L145.7,321.4 L146.1,321.5 L146.6,321.5 L147.1,321.6 L147.5,321.7 L148.0,321.7 L148.4,321.8 L148.9,321.8 L149.3,321.9 L149.8,321.9 L150.2,322.0 L150.7,322.0 L151.2,322.1 L151.6,322.2 L152.1,322.2 L152.5,322.3 L153.0,322.3 L153.4,322.4 L153.9,322.4 L154.3,322.5 L154.8,322.5 L155.2,322.6 L155.7,322.6 L156.2,322.7 L156.6,322.8 L157.1,322.8 L157.5,322.9 L158.0,322.9 L158.4,323.0 L158.9,323.0 L159.3,323.1 L159.8,323.1 L160.3,323.2 L160.7,323.2 L161.2,323.3 L161.6,323.3 L162.1,323.4 L162.5,323.4 L163.0,323.5 L163.4,323.5 L163.9,323.6 L164.4,323.6 L164.8,323.7 L165.3,323.7 L165.7,323.8 L166.2,323.9 L166.6,323.9 L167.1,324.0 L167.5,324.0 L168.0,324.1 L168.4,324.1 L168.9,324.2 L169.4,324.2 L169.8,324.3 L170.3,324.4 L170.7,324.4 L171.2,324.5 L171.6,324.5 L172.1,324.6 L172.5,324.6 L173.0,324.7 L173.5,324.7 L173.9,324.8 L174.4,324.8 L174.8,324.8 L175.3,324.9 L175.7,324.9 L176.2,324.9 L176.6,325.0 L177.1,325.0 L177.6,325.0 L178.0,325.0 L178.5,325.1 L178.9,325.1 L179.4,325.1 L179.8,325.1 L180.3,325.1 L180.7,325.1 L181.2,325.1 L181.6,325.1 L182.1,325.0 L182.6,324.9 L183.0,324.8 L183.5,324.7 L183.9,324.5 L184.4,324.4 L184.8,324.2 L185.3,324.0 L185.7,323.7 L186.2,323.4 L186.7,323.1 L187.1,322.8 L187.6,322.4 L188.0,322.0 L188.5,321.4 L188.9,320.8 L189.4,320.1 L189.8,319.2 L190.3,318.3 L190.7,317.2 L191.2,316.2 L191.7,315.0 L192.1,313.7 L192.6,312.3 L193.0,310.7 L193.5,309.1 L193.9,307.4 L194.4,305.8 L194.8,304.1 L195.3,302.3 L195.8,300.5 L196.2,298.7 L196.7,296.8 L197.1,294.9 L197.6,293.1 L198.0,291.2 L198.5,289.4 L198.9,287.5 L199.4,285.7 L199.9,283.8 L200.3,282.0 L200.8,280.2 L201.2,278.4 L201.7,276.6 L202.1,274.8 L202.6,273.0 L203.0,271.3 L203.5,269.6 L203.9,267.9 L204.4,266.3 L204.9,264.6 L205.3,263.0 L205.8,261.4 L206.2,259.9 L206.7,258.3 L207.1,256.7 L207.6,255.1 L208.0,253.5 L208.5,252.1 L209.0,250.8 L209.4,249.6 L209.9,248.4 L210.3,247.2 L210.8,246.2 L211.2,245.2 L211.7,244.4 L212.1,243.8 L212.6,243.3 L213.0,242.9 L213.5,242.5 L214.0,242.2 L214.4,241.9 L214.9,241.8 L215.3,241.8 L215.8,241.8 L216.2,242.0 L216.7,242.2 L217.1,242.4 L217.6,242.6 L218.1,242.8 L218.5,243.1 L219.0,243.3 L219.4,243.6 L219.9,243.9 L220.3,244.1 L220.8,244.3 L221.2,244.5 L221.7,244.6" fill="none" stroke="#000000" stroke-width="1.6" stroke-linejoin="round"/>
<path d="M31.0,213.3L31.5,213.3L31.9,213.3L32.4,213.3L32.8,213.3L33.3,213.3L33.7,213.3L34.2,213.3L34.6,213.3M37.5,213.3L37.8,213.3L38.3,213.3L38.7,213.3L39.2,213.3L39.6,213.4L40.1,213.5L40.6,213.7L41.0,213.9L41.0,213.9M43.6,215.6L43.7,215.7L44.2,216.1L44.7,216.6L45.1,217.1L45.6,217.7L46.0,218.3L46.3,218.7M47.9,221.8L48.3,222.6L48.7,223.6L49.2,224.7L49.7,225.9L49.7,225.9M50.8,229.4L51.0,230.2L51.5,231.8L51.9,233.5L52.0,233.8M52.9,237.4L53.3,239.2L53.8,241.4L53.8,241.9M54.5,245.5L54.7,246.3L55.1,248.9L55.3,250.1M56.0,253.8L56.0,254.1L56.5,256.8L56.8,258.4M57.4,262.0L57.4,262.2L57.9,264.9L58.1,266.6M58.7,270.3L58.8,270.4L59.2,273.0L59.5,274.9M60.2,278.5L60.6,280.8L61.0,283.1M61.7,286.7L61.9,287.9L62.4,290.0L62.7,291.3M63.5,294.9L63.8,295.8L64.2,297.6L64.7,299.3L64.7,299.3M65.7,302.8L66.0,303.8L66.5,305.2L67.0,306.5L67.2,307.1M68.8,310.2L69.2,310.8L69.7,311.3L70.1,311.8L70.6,312.2L71.1,312.5L71.5,312.8L71.7,312.9M74.5,313.9L74.7,313.9L75.1,314.0L75.6,314.1L76.1,314.2L76.5,314.3L77.0,314.4L77.4,314.4L77.9,314.5L78.1,314.5M81.0,314.8L81.1,314.9L81.5,314.9L82.0,314.9L82.4,315.0L82.9,315.0L83.3,315.1L83.8,315.1L84.2,315.1L84.5,315.1M87.4,315.3L87.9,315.3L88.3,315.3L88.8,315.3L89.3,315.4L89.7,315.4L90.2,315.4L90.6,315.4L91.0,315.4M93.9,315.5L94.3,315.5L94.7,315.5L95.2,315.5L95.6,315.5L96.1,315.6L96.5,315.6L97.0,315.6L97.4,315.6L97.5,315.6M100.4,315.7L100.6,315.7L101.1,315.7L101.5,315.7L102.0,315.7L102.5,315.7L102.9,315.8L103.4,315.8L103.8,315.8L104.0,315.8M106.9,316.0L107.0,316.0L107.5,316.0L107.9,316.1L108.4,316.1L108.8,316.1L109.3,316.2L109.7,316.2L110.2,316.3L110.5,316.3M113.4,316.6L113.8,316.7L114.3,316.8L114.7,316.8L115.2,316.9L115.7,316.9L116.1,317.0L116.6,317.1L117.0,317.1M119.9,317.5L120.2,317.6L120.7,317.6L121.1,317.7L121.6,317.8L122.0,317.8L122.5,317.9L122.9,317.9L123.4,318.0L123.5,318.0M126.3,318.4L126.6,318.4L127.0,318.5L127.5,318.5L127.9,318.6L128.4,318.7L128.9,318.7L129.3,318.8L129.8,318.9L129.9,318.9M132.8,319.3L132.9,319.3L133.4,319.4L133.9,319.5L134.3,319.5L134.8,319.6L135.2,319.7L135.7,319.7L136.1,319.8L136.4,319.8M139.3,320.2L139.3,320.2L139.8,320.3L140.2,320.4L140.7,320.4L141.1,320.5L141.6,320.6L142.1,320.6L142.5,320.7L142.8,320.7M145.7,321.1L146.1,321.2L146.6,321.2L147.1,321.3L147.5,321.4L148.0,321.4L148.4,321.5L148.9,321.5L149.3,321.6M152.2,321.9L152.5,322.0L153.0,322.0L153.4,322.1L153.9,322.1L154.3,322.2L154.8,322.2L155.2,322.3L155.7,322.3L155.8,322.4M158.7,322.7L158.9,322.7L159.3,322.8L159.8,322.8L160.3,322.9L160.7,322.9L161.2,323.0L161.6,323.0L162.1,323.1L162.3,323.1M165.2,323.4L165.3,323.4L165.7,323.5L166.2,323.5L166.6,323.6L167.1,323.6L167.5,323.7L168.0,323.8L168.4,323.8L168.7,323.9M171.6,324.2L171.6,324.2L172.1,324.2L172.5,324.3L173.0,324.3L173.5,324.4L173.9,324.4L174.4,324.5L174.8,324.5L175.2,324.5M178.1,324.7L178.5,324.7L178.9,324.8L179.4,324.8L179.8,324.8L180.3,324.8L180.7,324.8L181.2,324.8L181.6,324.7L181.7,324.7M184.6,324.0L184.8,323.9L185.3,323.6L185.7,323.4L186.2,323.1L186.7,322.8L187.1,322.5L187.6,322.1L187.8,321.9M189.7,319.2L189.8,318.9L190.3,318.0L190.7,317.0L191.2,315.9L191.5,315.1M192.7,311.7L193.0,310.5L193.5,308.9L193.9,307.3M194.9,303.7L195.3,302.2L195.8,300.4L196.0,299.3M196.9,295.7L197.1,294.8L197.6,292.9L198.0,291.2M198.9,287.6L198.9,287.4L199.4,285.5L199.9,283.7L200.0,283.2M200.9,279.6L201.2,278.3L201.7,276.5L202.0,275.1M202.9,271.6L203.0,271.2L203.5,269.5L203.9,267.8L204.1,267.2M205.1,263.6L205.3,262.9L205.8,261.3L206.2,259.7L206.4,259.2M207.4,255.7L207.6,255.0L208.0,253.4L208.5,252.0L208.7,251.3M210.0,248.0L210.3,247.1L210.8,246.0L211.2,245.0L211.7,244.2L211.9,244.0M214.2,241.9L214.4,241.8L214.9,241.6L215.3,241.6L215.8,241.7L216.2,241.8L216.7,242.0L217.1,242.2L217.6,242.5L217.7,242.5M220.4,244.0L220.8,244.1L221.2,244.3L221.7,244.4" fill="none" stroke="#ff0000" stroke-width="1.8" stroke-linejoin="round"/>
<path d="M31.0,213.3L31.5,213.3L31.9,213.3L32.4,213.3L32.8,213.3L33.3,213.3L33.7,213.3L34.2,213.3L34.3,213.3M37.2,213.3L37.4,213.3L37.8,213.3L38.3,213.3L38.7,213.3L39.2,213.3L39.6,213.4L40.1,213.5L40.6,213.7L40.8,213.8M43.4,215.3L43.7,215.7L44.2,216.1L44.7,216.6L45.1,217.1L45.6,217.7L46.0,218.3L46.1,218.4M47.8,221.5L47.8,221.6L48.3,222.6L48.7,223.6L49.2,224.7L49.5,225.5M50.7,229.0L51.0,230.2L51.5,231.8L51.9,233.4M52.8,237.0L52.8,237.2L53.3,239.2L53.8,241.4L53.8,241.5M54.5,245.2L54.7,246.3L55.1,248.9L55.3,249.7M55.9,253.4L56.0,254.1L56.5,256.8L56.7,258.0M57.3,261.7L57.4,262.2L57.9,264.9L58.1,266.2M58.7,269.9L58.8,270.4L59.2,273.0L59.5,274.5M60.1,278.2L60.1,278.2L60.6,280.8L60.9,282.7M61.6,286.4L61.9,288.1L62.4,290.2L62.5,290.9M63.4,294.5L63.8,296.2L64.2,298.0L64.5,299.0M65.5,302.5L65.6,303.0L66.0,304.5L66.5,306.0L66.8,306.9M68.1,310.2L68.3,310.7L68.8,311.6L69.2,312.3L69.7,312.9L70.1,313.4L70.5,313.7M73.1,315.3L73.3,315.4L73.8,315.5L74.2,315.7L74.7,315.8L75.1,315.9L75.6,316.0L76.1,316.1L76.5,316.2L76.6,316.2M79.5,316.7L79.7,316.7L80.2,316.8L80.6,316.8L81.1,316.9L81.5,316.9L82.0,317.0L82.4,317.0L82.9,317.1L83.1,317.1M85.9,317.3L86.1,317.3L86.5,317.3L87.0,317.3L87.4,317.4L87.9,317.4L88.3,317.4L88.8,317.4L89.3,317.4L89.5,317.5M92.4,317.5L92.9,317.6L93.4,317.6L93.8,317.6L94.3,317.6L94.7,317.6L95.2,317.6L95.6,317.6L96.0,317.6M98.9,317.7L99.3,317.7L99.7,317.7L100.2,317.7L100.6,317.8L101.1,317.8L101.5,317.8L102.0,317.8L102.5,317.8L102.5,317.8M105.4,318.0L105.6,318.0L106.1,318.0L106.6,318.0L107.0,318.1L107.5,318.1L107.9,318.1L108.4,318.2L108.8,318.2L109.0,318.2M111.9,318.5L112.0,318.6L112.5,318.6L112.9,318.7L113.4,318.7L113.8,318.8L114.3,318.8L114.7,318.9L115.2,319.0L115.5,319.0M118.4,319.4L118.8,319.4L119.3,319.5L119.7,319.6L120.2,319.6L120.7,319.7L121.1,319.8L121.6,319.8L122.0,319.9M124.9,320.3L125.2,320.3L125.7,320.4L126.1,320.4L126.6,320.5L127.0,320.6L127.5,320.6L127.9,320.7L128.4,320.7L128.4,320.8M131.3,321.2L131.6,321.2L132.0,321.3L132.5,321.3L132.9,321.4L133.4,321.5L133.9,321.5L134.3,321.6L134.8,321.7L134.9,321.7M137.8,322.1L138.0,322.1L138.4,322.2L138.9,322.3L139.3,322.3L139.8,322.4L140.2,322.5L140.7,322.5L141.1,322.6L141.4,322.6M144.2,323.0L144.3,323.0L144.8,323.1L145.2,323.1L145.7,323.2L146.1,323.3L146.6,323.3L147.1,323.4L147.5,323.4L147.8,323.5M150.7,323.8L151.2,323.9L151.6,323.9L152.1,324.0L152.5,324.0L153.0,324.1L153.4,324.2L153.9,324.2L154.3,324.3M157.2,324.6L157.5,324.6L158.0,324.7L158.4,324.7L158.9,324.8L159.3,324.8L159.8,324.9L160.3,325.0L160.7,325.0L160.8,325.0M163.7,325.4L163.9,325.4L164.4,325.5L164.8,325.5L165.3,325.6L165.7,325.6L166.2,325.7L166.6,325.7L167.1,325.8L167.2,325.8M170.1,326.2L170.3,326.2L170.7,326.3L171.2,326.3L171.6,326.4L172.1,326.5L172.5,326.5L173.0,326.6L173.5,326.6L173.7,326.6M176.6,326.9L176.6,326.9L177.1,326.9L177.6,326.9L178.0,327.0L178.5,327.0L178.9,327.0L179.4,327.0L179.8,327.0L180.2,327.0M183.1,326.7L183.5,326.6L183.9,326.4L184.4,326.3L184.8,326.1L185.3,325.9L185.7,325.6L186.2,325.3L186.4,325.1M188.7,322.7L188.9,322.4L189.4,321.6L189.8,320.7L190.3,319.7L190.7,318.8M191.9,315.5L192.1,315.0L192.6,313.5L193.0,311.9L193.2,311.1M194.2,307.5L194.4,306.9L194.8,305.1L195.3,303.3L195.4,303.1M196.2,299.5L196.7,297.7L197.1,295.8L197.3,295.0M198.2,291.5L198.5,290.2L198.9,288.3L199.3,287.0M200.1,283.4L200.3,282.8L200.8,280.9L201.2,279.1L201.3,278.9M202.2,275.4L202.6,273.7L203.0,272.0L203.3,270.9M204.3,267.4L204.4,267.0L204.9,265.3L205.3,263.7L205.5,263.0M206.5,259.5L206.7,259.0L207.1,257.4L207.6,255.9L207.8,255.1M208.9,251.6L209.0,251.6L209.4,250.4L209.9,249.2L210.3,248.1L210.6,247.5M212.4,244.5L212.6,244.3L213.0,243.8L213.5,243.5L214.0,243.1L214.4,242.9L214.9,242.7L215.3,242.7L215.6,242.8M218.3,243.9L218.5,244.0L219.0,244.3L219.4,244.5L219.9,244.8L220.3,245.1L220.8,245.3L221.2,245.4L221.7,245.5" fill="none" stroke="#0000ff" stroke-width="1.8" stroke-linejoin="round"/>
<path d="M31.0,213.3L31.5,213.3L31.9,213.3L32.4,213.3L32.8,213.3L33.3,213.3L33.7,213.3L34.0,213.3M36.9,213.3L36.9,213.3L37.4,213.3L37.8,213.3L38.3,213.3L38.7,213.3L39.2,213.3L39.6,213.4L40.1,213.5L40.5,213.7M43.1,215.1L43.3,215.2L43.7,215.7L44.2,216.1L44.7,216.6L45.1,217.1L45.6,217.7L45.9,218.1M47.6,221.1L47.8,221.6L48.3,222.6L48.7,223.6L49.2,224.7L49.4,225.2M50.6,228.6L51.0,230.2L51.5,231.8L51.8,233.0M52.7,236.6L52.8,237.2L53.3,239.2L53.7,241.1M54.4,244.8L54.7,246.3L55.1,248.9L55.2,249.3M55.8,253.0L56.0,254.1L56.5,256.8L56.6,257.6M57.2,261.3L57.4,262.2L57.9,264.9L58.0,265.8M58.6,269.5L58.8,270.4L59.2,273.0L59.4,274.1M60.0,277.8L60.1,278.2L60.6,280.8L60.8,282.3M61.5,286.0L61.9,288.2L62.4,290.4L62.4,290.5M63.2,294.2L63.3,294.5L63.8,296.4L64.2,298.3L64.3,298.6M65.3,302.2L65.6,303.4L66.0,305.0L66.5,306.5L66.5,306.6M67.7,310.0L67.9,310.4L68.3,311.4L68.8,312.4L69.2,313.2L69.7,313.8L69.7,313.9M72.1,316.0L72.4,316.1L72.9,316.3L73.3,316.5L73.8,316.7L74.2,316.8L74.7,317.0L75.1,317.1L75.6,317.2M78.4,317.8L78.8,317.8L79.2,317.9L79.7,318.0L80.2,318.0L80.6,318.1L81.1,318.1L81.5,318.2L82.0,318.3L82.0,318.3M84.9,318.5L85.2,318.5L85.6,318.6L86.1,318.6L86.5,318.6L87.0,318.6L87.4,318.7L87.9,318.7L88.3,318.7L88.5,318.7M91.4,318.8L91.5,318.8L92.0,318.8L92.4,318.8L92.9,318.8L93.4,318.9L93.8,318.9L94.3,318.9L94.7,318.9L95.0,318.9M97.9,319.0L97.9,319.0L98.4,319.0L98.8,319.0L99.3,319.0L99.7,319.0L100.2,319.0L100.6,319.0L101.1,319.1L101.5,319.1M104.4,319.2L104.7,319.2L105.2,319.2L105.6,319.3L106.1,319.3L106.6,319.3L107.0,319.4L107.5,319.4L107.9,319.4L108.0,319.4M110.9,319.7L111.1,319.7L111.6,319.8L112.0,319.8L112.5,319.9L112.9,319.9L113.4,320.0L113.8,320.1L114.3,320.1L114.5,320.1M117.3,320.5L117.5,320.5L117.9,320.6L118.4,320.7L118.8,320.7L119.3,320.8L119.7,320.9L120.2,320.9L120.7,321.0L120.9,321.0M123.8,321.4L123.8,321.4L124.3,321.5L124.8,321.6L125.2,321.6L125.7,321.7L126.1,321.7L126.6,321.8L127.0,321.8L127.4,321.9M130.3,322.3L130.7,322.4L131.1,322.4L131.6,322.5L132.0,322.6L132.5,322.6L132.9,322.7L133.4,322.8L133.8,322.8M136.7,323.2L137.0,323.3L137.5,323.4L138.0,323.4L138.4,323.5L138.9,323.6L139.3,323.6L139.8,323.7L140.2,323.7L140.3,323.8M143.2,324.2L143.4,324.2L143.9,324.2L144.3,324.3L144.8,324.4L145.2,324.4L145.7,324.5L146.1,324.5L146.6,324.6L146.8,324.6M149.7,325.0L149.8,325.0L150.2,325.1L150.7,325.1L151.2,325.2L151.6,325.2L152.1,325.3L152.5,325.3L153.0,325.4L153.2,325.4M156.1,325.8L156.2,325.8L156.6,325.8L157.1,325.9L157.5,325.9L158.0,326.0L158.4,326.0L158.9,326.1L159.3,326.1L159.7,326.2M162.6,326.5L163.0,326.6L163.4,326.7L163.9,326.7L164.4,326.8L164.8,326.8L165.3,326.9L165.7,326.9L166.2,327.0L166.2,327.0M169.1,327.4L169.4,327.5L169.8,327.5L170.3,327.6L170.7,327.6L171.2,327.7L171.6,327.8L172.1,327.8L172.5,327.9L172.7,327.9M175.5,328.2L175.7,328.2L176.2,328.2L176.6,328.2L177.1,328.3L177.6,328.3L178.0,328.3L178.5,328.4L178.9,328.4L179.1,328.4M182.0,328.3L182.1,328.3L182.6,328.2L183.0,328.1L183.5,328.0L183.9,327.8L184.4,327.7L184.8,327.5L185.3,327.3L185.5,327.1M187.9,325.0L188.0,324.9L188.5,324.2L188.9,323.5L189.4,322.7L189.8,321.8L190.0,321.3M191.4,318.0L191.7,317.3L192.1,315.9L192.6,314.3L192.8,313.6M193.7,310.1L193.9,309.3L194.4,307.6L194.8,305.9L194.9,305.6M195.8,302.1L196.2,300.3L196.7,298.4L196.9,297.6M197.7,294.0L198.0,292.7L198.5,290.8L198.8,289.5M199.7,285.9L199.9,285.2L200.3,283.3L200.8,281.5M201.7,277.9L201.7,277.8L202.1,276.0L202.6,274.2L202.8,273.4M203.7,269.9L203.9,269.1L204.4,267.5L204.9,265.8L205.0,265.5M206.0,261.9L206.2,261.1L206.7,259.5L207.1,258.0L207.3,257.6M208.3,254.1L208.5,253.5L209.0,252.2L209.4,251.0L209.9,249.9L209.9,249.8M211.3,246.6L211.7,246.0L212.1,245.4L212.6,244.9L213.0,244.5L213.5,244.2L214.0,243.8L214.1,243.7M216.9,243.9L217.1,244.0L217.6,244.3L218.1,244.5L218.5,244.7L219.0,245.0L219.4,245.2L219.9,245.5L220.3,245.7" fill="none" stroke="#ff00ff" stroke-width="1.8" stroke-linejoin="round"/>
<path d="M30.40,189.70H225.40" stroke="#2e2e2e" stroke-width="1.25"/>
<path d="M224.80,189.10V343.40" stroke="#2e2e2e" stroke-width="1.25"/>
<path d="M30.40,342.80H225.40" stroke="#2e2e2e" stroke-width="1.25"/>
<path d="M31.00,189.10V343.40" stroke="#2e2e2e" stroke-width="1.25"/>
<path d="M27.70,331.02H31.00M27.70,307.47H31.00M27.70,283.92H31.00M27.70,260.36H31.00M27.70,236.81H31.00M27.70,213.25H31.00M27.70,189.70H31.00M29.10,319.25H31.00M29.10,295.69H31.00M29.10,272.14H31.00M29.10,248.58H31.00M29.10,225.03H31.00M29.10,201.48H31.00M31.00,342.80V346.10M62.29,342.80V346.10M93.58,342.80V346.10M124.87,342.80V346.10M156.15,342.80V346.10M187.44,342.80V346.10M218.73,342.80V346.10M46.64,342.80V344.70M77.93,342.80V344.70M109.22,342.80V344.70M140.51,342.80V344.70M171.80,342.80V344.70M203.09,342.80V344.70" stroke="#111" stroke-width="1.3" fill="none"/>
<text x="25.50" y="333.77" font-size="9.3" text-anchor="end">-50</text>
<text x="25.50" y="310.22" font-size="9.3" text-anchor="end">-40</text>
<text x="25.50" y="286.67" font-size="9.3" text-anchor="end">-30</text>
<text x="25.50" y="263.11" font-size="9.3" text-anchor="end">-20</text>
<text x="25.50" y="239.56" font-size="9.3" text-anchor="end">-10</text>
<text x="25.50" y="216.00" font-size="9.3" text-anchor="end">0</text>
<text x="25.50" y="192.45" font-size="9.3" text-anchor="end">10</text>
<text x="31.00" y="355.70" font-size="9.3" text-anchor="middle">0</text>
<text x="62.29" y="355.70" font-size="9.3" text-anchor="middle">50</text>
<text x="93.58" y="355.70" font-size="9.3" text-anchor="middle">100</text>
<text x="124.87" y="355.70" font-size="9.3" text-anchor="middle">150</text>
<text x="156.15" y="355.70" font-size="9.3" text-anchor="middle">200</text>
<text x="187.44" y="355.70" font-size="9.3" text-anchor="middle">250</text>
<text x="218.73" y="355.70" font-size="9.3" text-anchor="middle">300</text>
<path d="M172.00,318.00L179.08,330.89" stroke="#000" stroke-width="1.2" fill="none"/><path d="M181.00,334.40L177.59,331.71L180.57,330.08Z" fill="#000"/>
<text x="102.0" y="288.5" font-size="10.95">ΔE=9kV/mm</text>
<text x="128.40" y="366.70" font-size="10.9" text-anchor="middle">Thickness(µm)</text>
<text transform="translate(9.60,265.10) rotate(-90)" font-size="11.1" text-anchor="middle">Electric field(kV/mm)</text>
<path d="M300.50,189.80V343.10" stroke="#111" stroke-width="1.25" stroke-dasharray="1.35 2.0" fill="none"/>
<path d="M439.45,189.80V343.10" stroke="#111" stroke-width="1.25" stroke-dasharray="1.35 2.0" fill="none"/>
<path d="M265.20,307.90H459.40" stroke="#ff0000" stroke-width="1.7" stroke-dasharray="1.6 1.7" fill="none"/>
<path d="M265.20,322.00H459.40" stroke="#ff0000" stroke-width="1.3" stroke-dasharray="1.6 1.7" fill="none"/>
<path d="M265.2,213.4 L265.7,213.3 L266.1,213.3 L266.6,213.3 L267.0,213.2 L267.5,213.2 L268.0,213.1 L268.4,213.1 L268.9,213.1 L269.3,213.0 L269.8,213.0 L270.3,212.9 L270.7,212.9 L271.2,212.9 L271.6,212.8 L272.1,212.8 L272.6,212.8 L273.0,212.7 L273.5,212.7 L273.9,212.6 L274.4,212.6 L274.9,212.6 L275.3,212.5 L275.8,212.5 L276.2,212.4 L276.7,212.4 L277.2,212.4 L277.6,212.3 L278.1,212.3 L278.5,212.3 L279.0,212.2 L279.5,212.2 L279.9,212.2 L280.4,212.2 L280.8,212.2 L281.3,212.3 L281.8,212.3 L282.2,212.4 L282.7,212.4 L283.1,212.5 L283.6,212.6 L284.1,212.7 L284.5,212.8 L285.0,213.0 L285.4,213.2 L285.9,213.4 L286.4,213.7 L286.8,214.0 L287.3,214.3 L287.7,214.8 L288.2,215.2 L288.7,215.8 L289.1,216.4 L289.6,217.0 L290.0,217.7 L290.5,218.5 L291.0,219.4 L291.4,220.6 L291.9,221.8 L292.4,223.2 L292.8,224.6 L293.3,226.0 L293.7,227.6 L294.2,229.3 L294.7,231.1 L295.1,233.0 L295.6,234.9 L296.0,236.9 L296.5,238.9 L297.0,240.9 L297.4,243.0 L297.9,245.2 L298.3,247.4 L298.8,249.6 L299.3,252.0 L299.7,254.4 L300.2,257.1 L300.6,259.8 L301.1,262.5 L301.6,265.2 L302.0,267.7 L302.5,270.1 L302.9,272.4 L303.4,274.6 L303.9,276.8 L304.3,278.9 L304.8,280.9 L305.2,282.9 L305.7,284.8 L306.2,286.7 L306.6,288.6 L307.1,290.4 L307.5,292.1 L308.0,293.7 L308.5,295.1 L308.9,296.5 L309.4,297.8 L309.8,299.1 L310.3,300.2 L310.8,301.2 L311.2,302.0 L311.7,302.7 L312.1,303.4 L312.6,304.0 L313.1,304.5 L313.5,304.9 L314.0,305.2 L314.4,305.4 L314.9,305.6 L315.4,305.7 L315.8,305.9 L316.3,306.0 L316.7,306.0 L317.2,306.1 L317.7,306.1 L318.1,306.1 L318.6,306.1 L319.0,306.1 L319.5,306.1 L320.0,306.1 L320.4,306.1 L320.9,306.1 L321.3,306.1 L321.8,306.1 L322.3,306.1 L322.7,306.1 L323.2,306.1 L323.6,306.1 L324.1,306.1 L324.6,306.1 L325.0,306.1 L325.5,306.1 L325.9,306.1 L326.4,306.1 L326.9,306.1 L327.3,306.1 L327.8,306.1 L328.2,306.1 L328.7,306.1 L329.2,306.1 L329.6,306.1 L330.1,306.1 L330.5,306.1 L331.0,306.1 L331.5,306.1 L331.9,306.1 L332.4,306.1 L332.8,306.1 L333.3,306.1 L333.8,306.1 L334.2,306.1 L334.7,306.1 L335.1,306.1 L335.6,306.1 L336.1,306.1 L336.5,306.1 L337.0,306.1 L337.4,306.1 L337.9,306.2 L338.4,306.2 L338.8,306.2 L339.3,306.2 L339.7,306.2 L340.2,306.2 L340.7,306.2 L341.1,306.2 L341.6,306.2 L342.0,306.2 L342.5,306.3 L343.0,306.3 L343.4,306.3 L343.9,306.4 L344.3,306.4 L344.8,306.4 L345.3,306.5 L345.7,306.5 L346.2,306.6 L346.7,306.6 L347.1,306.7 L347.6,306.7 L348.0,306.8 L348.5,306.8 L349.0,306.9 L349.4,306.9 L349.9,307.0 L350.3,307.0 L350.8,307.1 L351.3,307.1 L351.7,307.2 L352.2,307.3 L352.6,307.4 L353.1,307.4 L353.6,307.5 L354.0,307.6 L354.5,307.7 L354.9,307.8 L355.4,307.9 L355.9,308.0 L356.3,308.1 L356.8,308.2 L357.2,308.3 L357.7,308.4 L358.2,308.5 L358.6,308.6 L359.1,308.7 L359.5,308.8 L360.0,308.8 L360.5,308.9 L360.9,309.0 L361.4,309.1 L361.8,309.1 L362.3,309.2 L362.8,309.3 L363.2,309.4 L363.7,309.4 L364.1,309.5 L364.6,309.6 L365.1,309.6 L365.5,309.7 L366.0,309.8 L366.4,309.9 L366.9,309.9 L367.4,310.0 L367.8,310.1 L368.3,310.1 L368.7,310.2 L369.2,310.3 L369.7,310.3 L370.1,310.4 L370.6,310.5 L371.0,310.5 L371.5,310.6 L372.0,310.6 L372.4,310.7 L372.9,310.8 L373.3,310.8 L373.8,310.9 L374.3,311.0 L374.7,311.0 L375.2,311.1 L375.6,311.1 L376.1,311.2 L376.6,311.3 L377.0,311.3 L377.5,311.4 L377.9,311.4 L378.4,311.5 L378.9,311.5 L379.3,311.6 L379.8,311.7 L380.2,311.7 L380.7,311.8 L381.2,311.8 L381.6,311.9 L382.1,311.9 L382.5,312.0 L383.0,312.0 L383.5,312.1 L383.9,312.1 L384.4,312.2 L384.8,312.2 L385.3,312.3 L385.8,312.3 L386.2,312.4 L386.7,312.4 L387.1,312.5 L387.6,312.5 L388.1,312.6 L388.5,312.6 L389.0,312.7 L389.4,312.7 L389.9,312.7 L390.4,312.8 L390.8,312.8 L391.3,312.9 L391.7,312.9 L392.2,313.0 L392.7,313.0 L393.1,313.1 L393.6,313.1 L394.0,313.2 L394.5,313.2 L395.0,313.3 L395.4,313.3 L395.9,313.4 L396.3,313.4 L396.8,313.4 L397.3,313.5 L397.7,313.5 L398.2,313.6 L398.7,313.7 L399.1,313.7 L399.6,313.8 L400.0,313.8 L400.5,313.9 L401.0,313.9 L401.4,314.0 L401.9,314.0 L402.3,314.1 L402.8,314.2 L403.3,314.2 L403.7,314.3 L404.2,314.3 L404.6,314.4 L405.1,314.5 L405.6,314.5 L406.0,314.6 L406.5,314.7 L406.9,314.7 L407.4,314.8 L407.9,314.8 L408.3,314.9 L408.8,315.0 L409.2,315.0 L409.7,315.1 L410.2,315.2 L410.6,315.2 L411.1,315.3 L411.5,315.4 L412.0,315.4 L412.5,315.5 L412.9,315.5 L413.4,315.6 L413.8,315.7 L414.3,315.7 L414.8,315.8 L415.2,315.8 L415.7,315.9 L416.1,316.0 L416.6,316.1 L417.1,316.1 L417.5,316.2 L418.0,316.3 L418.4,316.3 L418.9,316.4 L419.4,316.4 L419.8,316.4 L420.3,316.4 L420.7,316.4 L421.2,316.4 L421.7,316.4 L422.1,316.3 L422.6,316.2 L423.0,316.1 L423.5,315.9 L424.0,315.7 L424.4,315.4 L424.9,315.0 L425.3,314.6 L425.8,314.3 L426.3,313.8 L426.7,313.3 L427.2,312.8 L427.6,312.3 L428.1,311.6 L428.6,310.9 L429.0,310.2 L429.5,309.3 L429.9,308.2 L430.4,307.0 L430.9,305.6 L431.3,304.2 L431.8,302.6 L432.2,301.1 L432.7,299.5 L433.2,297.8 L433.6,296.0 L434.1,294.1 L434.5,292.2 L435.0,290.3 L435.5,288.5 L435.9,286.6 L436.4,284.8 L436.8,282.9 L437.3,281.1 L437.8,279.2 L438.2,277.4 L438.7,275.6 L439.1,273.8 L439.6,272.0 L440.1,270.2 L440.5,268.4 L441.0,266.5 L441.4,264.7 L441.9,262.8 L442.4,260.8 L442.8,258.6 L443.3,256.1 L443.7,253.7 L444.2,251.5 L444.7,249.8 L445.1,248.2 L445.6,246.7 L446.0,245.4 L446.5,244.2 L447.0,243.1 L447.4,242.2 L447.9,241.4 L448.3,240.7 L448.8,240.0 L449.3,239.3 L449.7,238.8 L450.2,238.4 L450.7,238.1 L451.1,237.8 L451.6,237.6 L452.0,237.3 L452.5,237.1 L453.0,237.0 L453.4,236.9 L453.9,236.8 L454.3,236.7 L454.8,236.7 L455.3,236.7 L455.7,236.7 L456.2,236.8 L456.6,236.8 L457.1,236.8 L457.6,236.9 L458.0,237.0" fill="none" stroke="#000000" stroke-width="1.6" stroke-linejoin="round"/>
<path d="M265.2,213.4L265.7,213.3L266.1,213.3L266.6,213.3L267.0,213.2L267.5,213.2L268.0,213.1L268.4,213.1L268.8,213.1M271.7,212.8L272.1,212.8L272.6,212.8L273.0,212.7L273.5,212.7L273.9,212.6L274.4,212.6L274.9,212.6L275.3,212.5M278.2,212.3L278.5,212.3L279.0,212.2L279.5,212.2L279.9,212.2L280.4,212.2L280.8,212.2L281.3,212.3L281.8,212.3L281.8,212.3M284.6,212.8L285.0,213.0L285.4,213.2L285.9,213.4L286.4,213.7L286.8,214.0L287.3,214.3L287.7,214.8L287.8,214.9M289.9,217.5L290.0,217.7L290.5,218.5L291.0,219.4L291.4,220.6L291.8,221.5M292.9,225.0L293.3,226.0L293.7,227.6L294.2,229.3L294.2,229.3M295.1,232.9L295.1,233.0L295.6,234.9L296.0,236.9L296.2,237.4M297.0,241.0L297.4,243.0L297.9,245.2L297.9,245.5M298.7,249.2L298.8,249.6L299.3,252.0L299.6,253.7M300.2,257.4L300.6,259.8L301.0,261.9M301.6,265.6L302.0,267.7L302.5,270.1L302.5,270.2M303.2,273.8L303.4,274.7L303.9,276.8L304.2,278.3M305.0,281.9L305.2,283.0L305.7,285.0L306.0,286.4M306.9,290.0L307.1,290.8L307.5,292.6L308.0,294.2L308.1,294.4M309.2,297.9L309.4,298.6L309.8,299.9L310.3,301.2L310.7,302.2M312.4,305.2L312.6,305.6L313.1,306.2L313.5,306.7L314.0,307.1L314.4,307.4L314.9,307.6L315.3,307.8M318.1,308.4L318.6,308.4L319.0,308.4L319.5,308.4L320.0,308.4L320.4,308.4L320.9,308.4L321.3,308.4L321.7,308.4M324.6,308.4L325.0,308.4L325.5,308.4L325.9,308.4L326.4,308.4L326.9,308.4L327.3,308.5L327.8,308.5L328.2,308.5M331.1,308.5L331.5,308.5L331.9,308.5L332.4,308.5L332.8,308.5L333.3,308.5L333.8,308.5L334.2,308.5L334.7,308.5L334.7,308.5M337.6,308.5L337.9,308.5L338.4,308.5L338.8,308.5L339.3,308.6L339.7,308.6L340.2,308.6L340.7,308.6L341.1,308.6L341.2,308.6M344.1,308.8L344.3,308.8L344.8,308.8L345.3,308.9L345.7,308.9L346.2,308.9L346.7,309.0L347.1,309.0L347.6,309.1L347.7,309.1M350.6,309.4L350.8,309.5L351.3,309.5L351.7,309.6L352.2,309.7L352.6,309.7L353.1,309.8L353.6,309.9L354.0,310.0L354.2,310.0M357.0,310.7L357.2,310.7L357.7,310.8L358.2,310.9L358.6,311.0L359.1,311.1L359.5,311.2L360.0,311.3L360.5,311.3L360.6,311.4M363.5,311.8L363.7,311.9L364.1,312.0L364.6,312.0L365.1,312.1L365.5,312.2L366.0,312.3L366.4,312.3L366.9,312.4L367.0,312.4M369.9,312.9L370.1,312.9L370.6,313.0L371.0,313.0L371.5,313.1L372.0,313.2L372.4,313.2L372.9,313.3L373.3,313.4L373.5,313.4M376.4,313.8L376.6,313.8L377.0,313.9L377.5,313.9L377.9,314.0L378.4,314.1L378.9,314.1L379.3,314.2L379.8,314.2L380.0,314.3M382.9,314.6L383.0,314.6L383.5,314.7L383.9,314.7L384.4,314.8L384.8,314.8L385.3,314.9L385.8,314.9L386.2,315.0L386.4,315.0M389.3,315.3L389.4,315.3L389.9,315.4L390.4,315.4L390.8,315.5L391.3,315.5L391.7,315.6L392.2,315.6L392.7,315.7L392.9,315.7M395.8,316.0L395.9,316.0L396.3,316.1L396.8,316.1L397.3,316.2L397.7,316.2L398.2,316.3L398.7,316.3L399.1,316.4L399.4,316.4M402.3,316.8L402.3,316.8L402.8,316.8L403.3,316.9L403.7,316.9L404.2,317.0L404.6,317.1L405.1,317.1L405.6,317.2L405.9,317.2M408.8,317.6L408.8,317.6L409.2,317.7L409.7,317.7L410.2,317.8L410.6,317.9L411.1,317.9L411.5,318.0L412.0,318.0L412.3,318.1M415.2,318.4L415.7,318.5L416.1,318.5L416.6,318.6L417.1,318.6L417.5,318.7L418.0,318.7L418.4,318.7L418.8,318.7M421.7,318.6L422.1,318.5L422.6,318.4L423.0,318.3L423.5,318.2L424.0,318.0L424.4,317.7L424.9,317.4L425.1,317.2M427.4,314.9L427.6,314.6L428.1,314.0L428.6,313.3L429.0,312.4L429.5,311.5L429.6,311.2M430.9,307.8L430.9,307.8L431.3,306.4L431.8,304.9L432.2,303.5M433.2,300.0L433.6,298.4L434.1,296.6L434.4,295.5M435.2,291.9L435.5,291.1L435.9,289.3L436.4,287.5M437.3,283.9L437.3,283.8L437.8,281.9L438.2,280.1L438.4,279.5M439.3,275.9L439.6,274.8L440.1,272.9L440.4,271.4M441.3,267.8L441.4,267.1L441.9,265.1L442.3,263.3M443.0,259.7L443.3,258.1L443.7,255.5L443.8,255.1M444.6,251.5L444.7,251.3L445.1,249.7L445.6,248.1L445.9,247.1M447.2,243.7L447.4,243.2L447.9,242.3L448.3,241.4L448.8,240.7L449.3,240.0L449.3,240.0M451.7,237.9L452.0,237.7L452.5,237.5L453.0,237.3L453.4,237.2L453.9,237.1L454.3,237.0L454.8,237.0L455.2,237.0" fill="none" stroke="#ff0000" stroke-width="1.8" stroke-linejoin="round"/>
<path d="M265.2,213.4L265.7,213.3L266.1,213.3L266.6,213.3L267.0,213.2L267.5,213.2L268.0,213.1L268.4,213.1L268.5,213.1M271.4,212.8L271.6,212.8L272.1,212.8L272.6,212.8L273.0,212.7L273.5,212.7L273.9,212.6L274.4,212.6L274.9,212.6L275.0,212.6M277.9,212.3L278.1,212.3L278.5,212.3L279.0,212.2L279.5,212.2L279.9,212.2L280.4,212.2L280.8,212.2L281.3,212.3L281.5,212.3M284.3,212.7L284.5,212.8L285.0,213.0L285.4,213.2L285.9,213.4L286.4,213.7L286.8,214.0L287.3,214.3L287.6,214.6M289.7,217.2L290.0,217.7L290.5,218.5L291.0,219.4L291.4,220.6L291.6,221.1M292.8,224.6L292.8,224.6L293.3,226.0L293.7,227.6L294.1,229.0M295.0,232.5L295.1,233.0L295.6,234.9L296.0,236.9L296.1,237.0M296.9,240.6L297.0,240.9L297.4,243.0L297.9,245.1M298.6,248.8L298.8,249.6L299.3,252.0L299.5,253.3M300.2,257.0L300.2,257.1L300.6,259.8L300.9,261.6M301.6,265.2L302.0,267.7L302.4,269.8M303.1,273.4L303.4,274.7L303.9,276.9L304.1,277.9M304.9,281.6L305.2,283.2L305.7,285.2L305.9,286.1M306.7,289.7L307.1,291.2L307.5,293.0L307.8,294.1M308.9,297.6L308.9,297.7L309.4,299.2L309.8,300.7L310.3,302.0M311.7,305.2L312.1,306.1L312.6,306.9L313.1,307.7L313.5,308.2L314.0,308.7L314.0,308.8M316.7,310.3L316.7,310.3L317.2,310.4L317.7,310.5L318.1,310.5L318.6,310.5L319.0,310.5L319.5,310.5L320.0,310.5L320.3,310.5M323.2,310.5L323.2,310.5L323.6,310.5L324.1,310.5L324.6,310.5L325.0,310.5L325.5,310.5L325.9,310.5L326.4,310.5L326.8,310.5M329.7,310.5L330.1,310.5L330.5,310.5L331.0,310.5L331.5,310.5L331.9,310.5L332.4,310.5L332.8,310.5L333.3,310.5M336.2,310.5L336.5,310.6L337.0,310.6L337.4,310.6L337.9,310.6L338.4,310.6L338.8,310.6L339.3,310.6L339.7,310.6L339.8,310.6M342.7,310.7L343.0,310.7L343.4,310.7L343.9,310.8L344.3,310.8L344.8,310.8L345.3,310.9L345.7,310.9L346.2,311.0L346.2,311.0M349.1,311.3L349.4,311.3L349.9,311.4L350.3,311.4L350.8,311.5L351.3,311.6L351.7,311.6L352.2,311.7L352.6,311.8L352.7,311.8M355.6,312.4L355.9,312.5L356.3,312.6L356.8,312.7L357.2,312.8L357.7,312.9L358.2,313.0L358.6,313.1L359.1,313.2L359.1,313.2M362.0,313.7L362.3,313.7L362.8,313.8L363.2,313.9L363.7,314.0L364.1,314.1L364.6,314.1L365.1,314.2L365.5,314.3L365.6,314.3M368.4,314.8L368.7,314.8L369.2,314.9L369.7,315.0L370.1,315.0L370.6,315.1L371.0,315.2L371.5,315.3L372.0,315.3L372.0,315.3M374.9,315.8L375.2,315.8L375.6,315.9L376.1,315.9L376.6,316.0L377.0,316.1L377.5,316.1L377.9,316.2L378.4,316.3L378.5,316.3M381.4,316.6L381.6,316.7L382.1,316.7L382.5,316.8L383.0,316.9L383.5,316.9L383.9,317.0L384.4,317.0L384.8,317.1L384.9,317.1M387.8,317.4L388.1,317.4L388.5,317.5L389.0,317.5L389.4,317.6L389.9,317.6L390.4,317.7L390.8,317.7L391.3,317.8L391.4,317.8M394.3,318.1L394.5,318.2L395.0,318.2L395.4,318.3L395.9,318.3L396.3,318.4L396.8,318.4L397.3,318.5L397.7,318.5L397.9,318.5M400.8,318.9L401.0,318.9L401.4,318.9L401.9,319.0L402.3,319.1L402.8,319.1L403.3,319.2L403.7,319.2L404.2,319.3L404.4,319.3M407.3,319.7L407.4,319.7L407.9,319.8L408.3,319.8L408.8,319.9L409.2,319.9L409.7,320.0L410.2,320.0L410.6,320.1L410.8,320.1M413.7,320.4L413.8,320.5L414.3,320.5L414.8,320.6L415.2,320.6L415.7,320.6L416.1,320.7L416.6,320.7L417.1,320.7L417.3,320.8M420.2,320.8L420.3,320.8L420.7,320.7L421.2,320.7L421.7,320.6L422.1,320.5L422.6,320.4L423.0,320.3L423.5,320.2L423.8,320.1M426.3,318.2L426.7,317.8L427.2,317.2L427.6,316.7L428.1,316.0L428.6,315.2L428.8,314.8M430.2,311.6L430.4,311.1L430.9,309.7L431.3,308.3L431.6,307.3M432.7,303.8L433.2,302.2L433.6,300.5L433.9,299.4M434.8,295.8L435.0,295.1L435.5,293.3L435.9,291.5L436.0,291.4M436.9,287.8L437.3,286.1L437.8,284.3L438.0,283.3M438.9,279.8L439.1,278.9L439.6,277.1L440.1,275.3M440.9,271.7L441.0,271.3L441.4,269.3L441.9,267.2M442.6,263.6L442.8,262.4L443.3,259.7L443.4,259.0M444.1,255.3L444.2,254.7L444.7,252.7L445.1,250.9L445.1,250.9M446.2,247.3L446.5,246.3L447.0,245.1L447.4,244.0L447.8,243.2M449.6,240.2L449.7,240.0L450.2,239.4L450.7,239.0L451.1,238.7L451.6,238.4L452.0,238.1L452.5,237.8L452.6,237.8M455.5,237.2L455.7,237.2L456.2,237.2L456.6,237.2L457.1,237.2L457.6,237.3L458.0,237.3" fill="none" stroke="#0000ff" stroke-width="1.8" stroke-linejoin="round"/>
<path d="M265.2,213.4L265.7,213.3L266.1,213.3L266.6,213.3L267.0,213.2L267.5,213.2L268.0,213.1L268.2,213.1M271.1,212.9L271.2,212.9L271.6,212.8L272.1,212.8L272.6,212.8L273.0,212.7L273.5,212.7L273.9,212.6L274.4,212.6L274.7,212.6M277.6,212.3L277.6,212.3L278.1,212.3L278.5,212.3L279.0,212.2L279.5,212.2L279.9,212.2L280.4,212.2L280.8,212.2L281.2,212.2M284.1,212.7L284.1,212.7L284.5,212.8L285.0,213.0L285.4,213.2L285.9,213.4L286.4,213.7L286.8,214.0L287.3,214.3L287.4,214.4M289.5,216.9L289.6,217.0L290.0,217.7L290.5,218.5L291.0,219.4L291.4,220.6L291.5,220.8M292.7,224.2L292.8,224.6L293.3,226.0L293.7,227.6L294.0,228.6M294.9,232.2L295.1,233.0L295.6,234.9L296.0,236.6M296.8,240.3L297.0,240.9L297.4,243.0L297.8,244.8M298.5,248.4L298.8,249.6L299.3,252.0L299.4,252.9M300.1,256.6L300.2,257.1L300.6,259.8L300.9,261.2M301.5,264.9L301.6,265.2L302.0,267.7L302.3,269.4M303.1,273.1L303.4,274.7L303.9,276.9L304.0,277.6M304.8,281.2L304.8,281.2L305.2,283.3L305.7,285.4L305.8,285.7M306.6,289.3L306.6,289.4L307.1,291.4L307.5,293.2L307.7,293.8M308.7,297.3L308.9,298.1L309.4,299.6L309.8,301.1L310.0,301.7M311.3,305.1L311.7,305.9L312.1,306.9L312.6,307.8L313.1,308.5L313.3,308.9M315.7,311.0L315.8,311.1L316.3,311.3L316.7,311.5L317.2,311.7L317.7,311.7L318.1,311.7L318.6,311.7L319.0,311.7L319.2,311.7M322.1,311.7L322.3,311.7L322.7,311.7L323.2,311.7L323.6,311.7L324.1,311.7L324.6,311.7L325.0,311.7L325.5,311.7L325.7,311.7M328.6,311.7L328.7,311.7L329.2,311.7L329.6,311.7L330.1,311.7L330.5,311.7L331.0,311.7L331.5,311.7L331.9,311.8L332.2,311.8M335.1,311.8L335.1,311.8L335.6,311.8L336.1,311.8L336.5,311.8L337.0,311.8L337.4,311.8L337.9,311.8L338.4,311.8L338.7,311.8M341.6,311.9L342.0,311.9L342.5,311.9L343.0,312.0L343.4,312.0L343.9,312.0L344.3,312.1L344.8,312.1L345.2,312.1M348.1,312.4L348.5,312.5L349.0,312.5L349.4,312.6L349.9,312.6L350.3,312.7L350.8,312.7L351.3,312.8L351.7,312.9M354.5,313.4L354.9,313.5L355.4,313.6L355.9,313.7L356.3,313.8L356.8,313.9L357.2,314.0L357.7,314.1L358.1,314.2M361.0,314.8L361.4,314.9L361.8,314.9L362.3,315.0L362.8,315.1L363.2,315.2L363.7,315.3L364.1,315.3L364.5,315.4M367.4,315.9L367.8,316.0L368.3,316.0L368.7,316.1L369.2,316.2L369.7,316.3L370.1,316.3L370.6,316.4L371.0,316.5M373.9,316.9L374.3,317.0L374.7,317.1L375.2,317.1L375.6,317.2L376.1,317.3L376.6,317.3L377.0,317.4L377.4,317.5M380.3,317.9L380.7,317.9L381.2,318.0L381.6,318.0L382.1,318.1L382.5,318.2L383.0,318.2L383.5,318.3L383.9,318.3M386.8,318.7L387.1,318.7L387.6,318.8L388.1,318.8L388.5,318.9L389.0,318.9L389.4,319.0L389.9,319.0L390.4,319.1L390.4,319.1M393.3,319.4L393.6,319.4L394.0,319.5L394.5,319.5L395.0,319.6L395.4,319.6L395.9,319.7L396.3,319.8L396.8,319.8L396.8,319.8M399.7,320.1L400.0,320.2L400.5,320.2L401.0,320.3L401.4,320.3L401.9,320.4L402.3,320.5L402.8,320.5L403.3,320.6L403.3,320.6M406.2,320.9L406.5,321.0L406.9,321.0L407.4,321.1L407.9,321.1L408.3,321.2L408.8,321.3L409.2,321.3L409.7,321.4L409.8,321.4M412.7,321.7L412.9,321.7L413.4,321.8L413.8,321.8L414.3,321.9L414.8,321.9L415.2,321.9L415.7,322.0L416.1,322.0L416.3,322.0M419.2,322.0L419.4,322.0L419.8,322.0L420.3,322.0L420.7,321.9L421.2,321.9L421.7,321.8L422.1,321.7L422.6,321.6L422.7,321.6M425.4,320.2L425.8,319.9L426.3,319.5L426.7,319.0L427.2,318.5L427.6,317.9L428.1,317.2L428.1,317.2M429.7,314.0L429.9,313.5L430.4,312.2L430.9,310.8L431.2,309.8M432.3,306.3L432.7,305.0L433.2,303.5L433.6,301.9M434.5,298.3L434.5,298.3L435.0,296.5L435.5,294.7L435.7,293.9M436.6,290.3L436.8,289.3L437.3,287.5L437.7,285.9M438.6,282.3L438.7,282.1L439.1,280.4L439.6,278.6L439.8,277.9M440.6,274.2L441.0,272.7L441.4,270.5L441.6,269.7M442.4,266.1L442.4,266.0L442.8,263.5L443.2,261.5M443.8,257.9L444.2,255.5L444.7,253.5L444.7,253.3M445.6,249.8L446.0,248.4L446.5,246.9L447.0,245.6L447.0,245.4M448.5,242.2L448.8,241.7L449.3,240.9L449.7,240.3L450.2,239.7L450.7,239.3L451.1,239.0M453.7,237.5L453.9,237.5L454.3,237.4L454.8,237.4L455.3,237.3L455.7,237.3L456.2,237.3L456.6,237.3L457.1,237.3L457.3,237.3" fill="none" stroke="#ff00ff" stroke-width="1.8" stroke-linejoin="round"/>
<path d="M264.60,189.80H460.00" stroke="#2e2e2e" stroke-width="1.25"/>
<path d="M459.40,189.20V343.70" stroke="#2e2e2e" stroke-width="1.25"/>
<path d="M264.60,343.10H460.00" stroke="#2e2e2e" stroke-width="1.25"/>
<path d="M265.20,189.20V343.70" stroke="#2e2e2e" stroke-width="1.25"/>
<path d="M261.90,331.31H265.20M261.90,307.72H265.20M261.90,284.14H265.20M261.90,260.55H265.20M261.90,236.97H265.20M261.90,213.38H265.20M261.90,189.80H265.20M263.30,319.52H265.20M263.30,295.93H265.20M263.30,272.35H265.20M263.30,248.76H265.20M263.30,225.18H265.20M263.30,201.59H265.20M265.20,343.10V346.40M292.94,343.10V346.40M320.69,343.10V346.40M348.43,343.10V346.40M376.17,343.10V346.40M403.91,343.10V346.40M431.66,343.10V346.40M459.40,343.10V346.40M279.07,343.10V345.00M306.81,343.10V345.00M334.56,343.10V345.00M362.30,343.10V345.00M390.04,343.10V345.00M417.79,343.10V345.00M445.53,343.10V345.00" stroke="#111" stroke-width="1.3" fill="none"/>
<text x="259.70" y="334.06" font-size="9.3" text-anchor="end">-50</text>
<text x="259.70" y="310.47" font-size="9.3" text-anchor="end">-40</text>
<text x="259.70" y="286.89" font-size="9.3" text-anchor="end">-30</text>
<text x="259.70" y="263.30" font-size="9.3" text-anchor="end">-20</text>
<text x="259.70" y="239.72" font-size="9.3" text-anchor="end">-10</text>
<text x="259.70" y="216.13" font-size="9.3" text-anchor="end">0</text>
<text x="259.70" y="192.55" font-size="9.3" text-anchor="end">10</text>
<text x="265.20" y="356.00" font-size="9.3" text-anchor="middle">0</text>
<text x="292.94" y="356.00" font-size="9.3" text-anchor="middle">50</text>
<text x="320.69" y="356.00" font-size="9.3" text-anchor="middle">100</text>
<text x="348.43" y="356.00" font-size="9.3" text-anchor="middle">150</text>
<text x="376.17" y="356.00" font-size="9.3" text-anchor="middle">200</text>
<text x="403.91" y="356.00" font-size="9.3" text-anchor="middle">250</text>
<text x="431.66" y="356.00" font-size="9.3" text-anchor="middle">300</text>
<text x="459.40" y="356.00" font-size="9.3" text-anchor="middle">350</text>
<path d="M412.00,311.00L419.43,324.12" stroke="#000" stroke-width="1.2" fill="none"/><path d="M421.40,327.60L417.95,324.96L420.91,323.28Z" fill="#000"/>
<text x="331.6" y="288.5" font-size="10.95">ΔE=6kV/mm</text>
<text x="362.85" y="366.70" font-size="10.9" text-anchor="middle">Thickness(µm)</text>
<text transform="translate(243.70,265.10) rotate(-90)" font-size="11.1" text-anchor="middle">Electric field(kV/mm)</text>
<path d="M529.50,189.80V343.20" stroke="#111" stroke-width="1.25" stroke-dasharray="1.35 2.0" fill="none"/>
<path d="M658.30,189.80V343.20" stroke="#111" stroke-width="1.25" stroke-dasharray="1.35 2.0" fill="none"/>
<path d="M499.00,307.90H693.00" stroke="#ff0000" stroke-width="1.5" stroke-dasharray="1.6 1.7" fill="none"/>
<path d="M499.00,315.00H693.00" stroke="#ff0000" stroke-width="1.5" stroke-dasharray="1.6 1.7" fill="none"/>
<path d="M499.0,216.8 L499.5,216.8 L499.9,216.8 L500.4,216.8 L500.9,216.8 L501.3,216.8 L501.8,216.8 L502.2,216.8 L502.7,216.8 L503.2,216.8 L503.6,216.8 L504.1,216.8 L504.6,216.8 L505.0,216.8 L505.5,216.8 L505.9,216.8 L506.4,216.8 L506.9,216.8 L507.3,216.8 L507.8,216.8 L508.3,216.8 L508.7,216.8 L509.2,216.8 L509.6,216.8 L510.1,216.8 L510.6,216.8 L511.0,216.8 L511.5,216.9 L512.0,216.9 L512.4,217.0 L512.9,217.0 L513.4,217.1 L513.8,217.2 L514.3,217.2 L514.7,217.4 L515.2,217.6 L515.7,217.8 L516.1,218.1 L516.6,218.4 L517.1,218.8 L517.5,219.2 L518.0,219.6 L518.4,220.1 L518.9,220.8 L519.4,221.6 L519.8,222.6 L520.3,223.7 L520.8,224.9 L521.2,226.0 L521.7,227.3 L522.2,228.7 L522.6,230.2 L523.1,231.8 L523.5,233.4 L524.0,235.2 L524.5,237.0 L524.9,239.1 L525.4,241.2 L525.9,243.5 L526.3,245.8 L526.8,248.1 L527.2,250.4 L527.7,252.6 L528.2,254.9 L528.6,257.2 L529.1,259.6 L529.6,262.2 L530.0,265.0 L530.5,267.8 L530.9,270.4 L531.4,272.8 L531.9,275.0 L532.3,277.1 L532.8,279.1 L533.3,281.0 L533.7,283.0 L534.2,284.9 L534.7,286.8 L535.1,288.7 L535.6,290.6 L536.0,292.5 L536.5,294.2 L537.0,295.7 L537.4,297.1 L537.9,298.5 L538.4,299.9 L538.8,301.1 L539.3,302.2 L539.7,303.0 L540.2,303.6 L540.7,304.1 L541.1,304.6 L541.6,305.0 L542.1,305.3 L542.5,305.5 L543.0,305.7 L543.4,305.7 L543.9,305.8 L544.4,305.8 L544.8,305.8 L545.3,305.9 L545.8,305.9 L546.2,305.9 L546.7,305.9 L547.2,305.9 L547.6,305.9 L548.1,305.9 L548.5,305.9 L549.0,305.9 L549.5,305.9 L549.9,305.9 L550.4,305.9 L550.9,305.9 L551.3,305.8 L551.8,305.8 L552.2,305.8 L552.7,305.8 L553.2,305.8 L553.6,305.8 L554.1,305.8 L554.6,305.8 L555.0,305.8 L555.5,305.8 L555.9,305.8 L556.4,305.8 L556.9,305.8 L557.3,305.8 L557.8,305.8 L558.3,305.8 L558.7,305.8 L559.2,305.8 L559.7,305.8 L560.1,305.8 L560.6,305.8 L561.0,305.8 L561.5,305.8 L562.0,305.8 L562.4,305.8 L562.9,305.8 L563.4,305.8 L563.8,305.8 L564.3,305.8 L564.7,305.8 L565.2,305.8 L565.7,305.8 L566.1,305.8 L566.6,305.8 L567.1,305.8 L567.5,305.8 L568.0,305.8 L568.5,305.8 L568.9,305.9 L569.4,305.9 L569.8,305.9 L570.3,305.9 L570.8,305.9 L571.2,305.9 L571.7,305.9 L572.2,305.9 L572.6,305.9 L573.1,305.9 L573.5,305.9 L574.0,305.9 L574.5,305.9 L574.9,305.9 L575.4,305.9 L575.9,305.9 L576.3,305.9 L576.8,306.0 L577.2,306.0 L577.7,306.0 L578.2,306.0 L578.6,306.1 L579.1,306.1 L579.6,306.1 L580.0,306.2 L580.5,306.2 L581.0,306.2 L581.4,306.3 L581.9,306.3 L582.3,306.4 L582.8,306.4 L583.3,306.5 L583.7,306.5 L584.2,306.6 L584.7,306.6 L585.1,306.7 L585.6,306.7 L586.0,306.8 L586.5,306.8 L587.0,306.9 L587.4,306.9 L587.9,307.0 L588.4,307.1 L588.8,307.1 L589.3,307.2 L589.7,307.2 L590.2,307.3 L590.7,307.3 L591.1,307.4 L591.6,307.5 L592.1,307.5 L592.5,307.6 L593.0,307.6 L593.5,307.7 L593.9,307.7 L594.4,307.8 L594.8,307.8 L595.3,307.8 L595.8,307.9 L596.2,307.9 L596.7,308.0 L597.2,308.0 L597.6,308.1 L598.1,308.1 L598.5,308.1 L599.0,308.2 L599.5,308.2 L599.9,308.3 L600.4,308.3 L600.9,308.4 L601.3,308.4 L601.8,308.5 L602.3,308.5 L602.7,308.6 L603.2,308.6 L603.6,308.6 L604.1,308.7 L604.6,308.7 L605.0,308.8 L605.5,308.8 L606.0,308.9 L606.4,308.9 L606.9,309.0 L607.3,309.0 L607.8,309.0 L608.3,309.1 L608.7,309.1 L609.2,309.2 L609.7,309.2 L610.1,309.3 L610.6,309.3 L611.0,309.3 L611.5,309.4 L612.0,309.4 L612.4,309.5 L612.9,309.5 L613.4,309.6 L613.8,309.6 L614.3,309.6 L614.8,309.7 L615.2,309.7 L615.7,309.8 L616.1,309.8 L616.6,309.8 L617.1,309.9 L617.5,309.9 L618.0,310.0 L618.5,310.0 L618.9,310.0 L619.4,310.1 L619.8,310.1 L620.3,310.2 L620.8,310.2 L621.2,310.2 L621.7,310.3 L622.2,310.3 L622.6,310.4 L623.1,310.4 L623.5,310.4 L624.0,310.5 L624.5,310.5 L624.9,310.5 L625.4,310.6 L625.9,310.6 L626.3,310.7 L626.8,310.7 L627.3,310.7 L627.7,310.8 L628.2,310.8 L628.6,310.8 L629.1,310.9 L629.6,310.9 L630.0,311.0 L630.5,311.0 L631.0,311.0 L631.4,311.1 L631.9,311.1 L632.3,311.1 L632.8,311.2 L633.3,311.2 L633.7,311.3 L634.2,311.3 L634.7,311.3 L635.1,311.4 L635.6,311.4 L636.1,311.5 L636.5,311.5 L637.0,311.5 L637.4,311.6 L637.9,311.6 L638.4,311.7 L638.8,311.7 L639.3,311.8 L639.8,311.8 L640.2,311.8 L640.7,311.8 L641.1,311.8 L641.6,311.8 L642.1,311.8 L642.5,311.7 L643.0,311.7 L643.5,311.6 L643.9,311.6 L644.4,311.4 L644.8,311.2 L645.3,310.9 L645.8,310.5 L646.2,310.0 L646.7,309.5 L647.2,308.8 L647.6,308.0 L648.1,307.0 L648.6,306.0 L649.0,304.7 L649.5,303.4 L649.9,301.9 L650.4,300.5 L650.9,299.0 L651.3,297.4 L651.8,295.8 L652.3,294.1 L652.7,292.5 L653.2,290.9 L653.6,289.2 L654.1,287.6 L654.6,285.9 L655.0,284.2 L655.5,282.5 L656.0,280.8 L656.4,279.1 L656.9,277.5 L657.3,275.9 L657.8,274.2 L658.3,272.4 L658.7,270.5 L659.2,268.4 L659.7,266.0 L660.1,263.5 L660.6,261.1 L661.1,259.0 L661.5,256.9 L662.0,254.9 L662.4,253.0 L662.9,251.2 L663.4,249.5 L663.8,247.9 L664.3,246.4 L664.8,245.0 L665.2,243.6 L665.7,242.3 L666.1,241.2 L666.6,240.2 L667.1,239.5 L667.5,238.8 L668.0,238.1 L668.5,237.6 L668.9,237.1 L669.4,236.6 L669.8,236.3 L670.3,236.0 L670.8,235.6 L671.2,235.4 L671.7,235.1 L672.2,234.8 L672.6,234.7 L673.1,234.5 L673.6,234.4 L674.0,234.4 L674.5,234.4 L674.9,234.4 L675.4,234.4 L675.9,234.4 L676.3,234.3 L676.8,234.3 L677.3,234.3 L677.7,234.3 L678.2,234.3 L678.6,234.3 L679.1,234.3 L679.6,234.3 L680.0,234.3 L680.5,234.3 L681.0,234.3 L681.4,234.3 L681.9,234.3 L682.4,234.3 L682.8,234.3 L683.3,234.3 L683.7,234.3 L684.2,234.3 L684.7,234.3 L685.1,234.3 L685.6,234.3 L686.1,234.3 L686.5,234.4 L687.0,234.4 L687.4,234.4 L687.9,234.4 L688.4,234.5 L688.8,234.5 L689.3,234.5 L689.8,234.6 L690.2,234.6 L690.7,234.7 L691.1,234.7 L691.6,234.7 L692.1,234.8 L692.5,234.8 L693.0,234.9" fill="none" stroke="#000000" stroke-width="1.6" stroke-linejoin="round"/>
<path d="M499.0,216.8L499.5,216.8L499.9,216.8L500.4,216.8L500.9,216.8L501.3,216.8L501.8,216.8L502.2,216.8L502.6,216.8M505.5,216.8L505.9,216.8L506.4,216.8L506.9,216.8L507.3,216.8L507.8,216.8L508.3,216.8L508.7,216.8L509.1,216.8M512.0,216.9L512.4,217.0L512.9,217.0L513.4,217.1L513.8,217.2L514.3,217.2L514.7,217.4L515.2,217.6L515.5,217.7M518.0,219.6L518.4,220.1L518.9,220.8L519.4,221.6L519.8,222.6L520.1,223.4M521.5,226.7L521.7,227.3L522.2,228.7L522.6,230.2L522.9,231.0M523.8,234.6L524.0,235.2L524.5,237.0L524.9,239.0M525.7,242.7L525.9,243.5L526.3,245.8L526.6,247.2M527.3,250.8L527.7,252.6L528.2,254.9L528.3,255.4M529.0,259.0L529.1,259.6L529.6,262.2L529.8,263.6M530.4,267.3L530.5,267.8L530.9,270.4L531.2,271.8M532.0,275.5L532.3,277.1L532.8,279.1L533.0,279.9M533.9,283.5L534.2,284.9L534.7,286.8L534.9,288.0M535.8,291.6L536.0,292.5L536.5,294.2L537.0,295.8L537.0,296.0M538.2,299.5L538.4,300.0L538.8,301.2L539.3,302.4L539.7,303.3L539.9,303.5M542.2,305.8L542.5,305.9L543.0,306.1L543.4,306.2L543.9,306.3L544.4,306.3L544.8,306.4L545.3,306.5L545.8,306.5L545.8,306.5M548.7,306.6L549.0,306.6L549.5,306.6L549.9,306.6L550.4,306.6L550.9,306.6L551.3,306.6L551.8,306.5L552.2,306.5L552.3,306.5M555.2,306.5L555.5,306.5L555.9,306.5L556.4,306.5L556.9,306.5L557.3,306.5L557.8,306.5L558.3,306.5L558.7,306.5L558.8,306.5M561.7,306.5L562.0,306.5L562.4,306.5L562.9,306.5L563.4,306.5L563.8,306.6L564.3,306.6L564.7,306.6L565.2,306.6L565.3,306.6M568.2,306.6L568.5,306.6L568.9,306.6L569.4,306.6L569.8,306.6L570.3,306.6L570.8,306.6L571.2,306.6L571.7,306.6L571.8,306.6M574.7,306.6L574.9,306.6L575.4,306.7L575.9,306.7L576.3,306.7L576.8,306.7L577.2,306.7L577.7,306.7L578.2,306.8L578.3,306.8M581.2,307.0L581.4,307.0L581.9,307.1L582.3,307.1L582.8,307.2L583.3,307.2L583.7,307.3L584.2,307.3L584.7,307.4L584.8,307.4M587.7,307.7L587.9,307.7L588.4,307.8L588.8,307.9L589.3,307.9L589.7,308.0L590.2,308.0L590.7,308.1L591.1,308.1L591.2,308.1M594.1,308.5L594.4,308.5L594.8,308.5L595.3,308.6L595.8,308.6L596.2,308.7L596.7,308.7L597.2,308.8L597.6,308.8L597.7,308.8M600.6,309.1L600.9,309.1L601.3,309.2L601.8,309.2L602.3,309.2L602.7,309.3L603.2,309.3L603.6,309.4L604.1,309.4L604.2,309.4M607.1,309.7L607.3,309.7L607.8,309.8L608.3,309.8L608.7,309.9L609.2,309.9L609.7,310.0L610.1,310.0L610.6,310.0L610.7,310.0M613.6,310.3L613.8,310.3L614.3,310.4L614.8,310.4L615.2,310.5L615.7,310.5L616.1,310.5L616.6,310.6L617.1,310.6L617.2,310.6M620.1,310.9L620.3,310.9L620.8,310.9L621.2,311.0L621.7,311.0L622.2,311.1L622.6,311.1L623.1,311.1L623.5,311.2L623.7,311.2M626.5,311.4L626.8,311.5L627.3,311.5L627.7,311.5L628.2,311.6L628.6,311.6L629.1,311.6L629.6,311.7L630.0,311.7L630.1,311.7M633.0,312.0L633.3,312.0L633.7,312.0L634.2,312.1L634.7,312.1L635.1,312.1L635.6,312.2L636.1,312.2L636.5,312.3L636.6,312.3M639.5,312.5L639.8,312.5L640.2,312.6L640.7,312.6L641.1,312.6L641.6,312.6L642.1,312.5L642.5,312.5L643.0,312.5L643.1,312.4M645.8,311.2L646.2,310.7L646.7,310.1L647.2,309.4L647.6,308.6L648.1,307.6M649.3,304.2L649.5,303.8L649.9,302.3L650.4,300.8L650.7,299.9M651.7,296.4L651.8,296.1L652.3,294.4L652.7,292.8L653.0,292.0M653.9,288.4L654.1,287.8L654.6,286.1L655.0,284.4L655.1,284.0M656.1,280.4L656.4,279.3L656.9,277.7L657.3,276.1L657.4,276.1M658.3,272.5L658.7,270.7L659.2,268.6L659.3,268.0M660.0,264.3L660.1,263.7L660.6,261.3L660.9,259.8M661.7,256.2L662.0,255.1L662.4,253.2L662.8,251.7M663.8,248.2L663.8,248.1L664.3,246.6L664.8,245.2L665.2,243.9M666.6,240.6L666.6,240.5L667.1,239.7L667.5,239.0L668.0,238.4L668.5,237.9L668.9,237.4L669.1,237.2M671.7,235.5L671.7,235.5L672.2,235.2L672.6,235.1L673.1,234.9L673.6,234.8L674.0,234.8L674.5,234.8L674.9,234.8L675.2,234.8M678.1,234.7L678.2,234.7L678.6,234.7L679.1,234.7L679.6,234.7L680.0,234.7L680.5,234.7L681.0,234.7L681.4,234.7L681.7,234.7M684.6,234.7L684.7,234.7L685.1,234.7L685.6,234.7L686.1,234.7L686.5,234.8L687.0,234.8L687.4,234.8L687.9,234.8L688.2,234.9M691.1,235.1L691.1,235.1L691.6,235.2L692.1,235.2L692.5,235.2L693.0,235.3" fill="none" stroke="#ff0000" stroke-width="1.8" stroke-linejoin="round"/>
<path d="M499.0,216.8L499.5,216.8L499.9,216.8L500.4,216.8L500.9,216.8L501.3,216.8L501.8,216.8L502.2,216.8L502.3,216.8M505.2,216.8L505.5,216.8L505.9,216.8L506.4,216.8L506.9,216.8L507.3,216.8L507.8,216.8L508.3,216.8L508.7,216.8L508.8,216.8M511.7,216.9L512.0,216.9L512.4,217.0L512.9,217.0L513.4,217.1L513.8,217.2L514.3,217.2L514.7,217.4L515.2,217.6L515.2,217.6M517.8,219.4L518.0,219.6L518.4,220.1L518.9,220.8L519.4,221.6L519.8,222.6L520.0,223.0M521.3,226.4L521.7,227.3L522.2,228.7L522.6,230.2L522.8,230.7M523.7,234.2L524.0,235.2L524.5,237.0L524.8,238.7M525.6,242.3L525.9,243.5L526.3,245.8L526.5,246.8M527.3,250.5L527.7,252.6L528.2,254.9L528.2,255.0M528.9,258.6L529.1,259.6L529.6,262.2L529.7,263.2M530.3,266.9L530.5,267.8L530.9,270.4L531.2,271.4M531.9,275.1L532.3,277.1L532.8,279.1L532.9,279.6M533.8,283.2L534.2,284.9L534.7,286.8L534.9,287.6M535.7,291.2L536.0,292.5L536.5,294.2L536.9,295.7M538.0,299.1L538.4,300.2L538.8,301.5L539.3,302.7L539.6,303.3M541.6,306.0L542.1,306.4L542.5,306.7L543.0,306.9L543.4,307.0L543.9,307.1L544.4,307.3L544.8,307.4L545.0,307.4M547.9,307.8L548.1,307.8L548.5,307.8L549.0,307.8L549.5,307.8L549.9,307.8L550.4,307.8L550.9,307.8L551.3,307.8L551.5,307.8M554.4,307.8L554.6,307.8L555.0,307.8L555.5,307.8L555.9,307.8L556.4,307.8L556.9,307.8L557.3,307.8L557.8,307.8L558.0,307.8M560.9,307.8L561.0,307.8L561.5,307.8L562.0,307.8L562.4,307.8L562.9,307.8L563.4,307.8L563.8,307.8L564.3,307.8L564.5,307.8M567.4,307.8L567.5,307.8L568.0,307.8L568.5,307.9L568.9,307.9L569.4,307.9L569.8,307.9L570.3,307.9L570.8,307.9L571.0,307.9M573.9,307.9L574.0,307.9L574.5,307.9L574.9,307.9L575.4,307.9L575.9,307.9L576.3,307.9L576.8,308.0L577.2,308.0L577.5,308.0M580.4,308.2L580.5,308.2L581.0,308.2L581.4,308.3L581.9,308.3L582.3,308.4L582.8,308.4L583.3,308.5L583.7,308.5L584.0,308.5M586.9,308.9L587.0,308.9L587.4,309.0L587.9,309.0L588.4,309.1L588.8,309.1L589.3,309.2L589.7,309.2L590.2,309.3L590.5,309.3M593.3,309.7L593.5,309.7L593.9,309.7L594.4,309.8L594.8,309.8L595.3,309.8L595.8,309.9L596.2,309.9L596.7,310.0L596.9,310.0M599.8,310.3L599.9,310.3L600.4,310.3L600.9,310.4L601.3,310.4L601.8,310.5L602.3,310.5L602.7,310.6L603.2,310.6L603.4,310.6M606.3,310.9L606.4,310.9L606.9,311.0L607.3,311.0L607.8,311.0L608.3,311.1L608.7,311.1L609.2,311.2L609.7,311.2L609.9,311.2M612.8,311.5L612.9,311.5L613.4,311.6L613.8,311.6L614.3,311.6L614.8,311.7L615.2,311.7L615.7,311.8L616.1,311.8L616.4,311.8M619.3,312.1L619.4,312.1L619.8,312.1L620.3,312.2L620.8,312.2L621.2,312.3L621.7,312.3L622.2,312.3L622.6,312.4L622.9,312.4M625.8,312.7L625.9,312.7L626.3,312.7L626.8,312.8L627.3,312.8L627.7,312.8L628.2,312.9L628.6,312.9L629.1,313.0L629.4,313.0M632.2,313.2L632.3,313.2L632.8,313.3L633.3,313.3L633.7,313.3L634.2,313.4L634.7,313.4L635.1,313.5L635.6,313.5L635.8,313.5M638.7,313.8L638.8,313.8L639.3,313.8L639.8,313.9L640.2,313.9L640.7,313.9L641.1,313.9L641.6,313.9L642.1,313.9L642.3,313.8M645.1,313.0L645.3,312.9L645.8,312.4L646.2,311.9L646.7,311.2L647.2,310.5L647.6,309.7M648.9,306.3L649.0,306.0L649.5,304.5L649.9,303.0L650.2,302.0M651.3,298.4L651.3,298.2L651.8,296.6L652.3,294.9L652.5,294.0M653.5,290.5L653.6,289.9L654.1,288.2L654.6,286.5L654.7,286.1M655.6,282.5L656.0,281.3L656.4,279.7L656.9,278.1M657.8,274.6L658.3,272.9L658.7,271.0L658.9,270.1M659.7,266.5L660.1,264.0L660.5,261.9M661.3,258.3L661.5,257.4L662.0,255.4L662.4,253.8M663.3,250.3L663.4,250.0L663.8,248.5L664.3,247.0L664.7,245.9M665.9,242.5L666.1,241.9L666.6,241.0L667.1,240.2L667.5,239.5L668.0,238.9L668.1,238.8M670.5,236.8L670.8,236.6L671.2,236.4L671.7,236.1L672.2,235.9L672.6,235.8L673.1,235.6L673.6,235.5L673.9,235.5M676.8,235.5L677.3,235.5L677.7,235.4L678.2,235.4L678.6,235.4L679.1,235.4L679.6,235.4L680.0,235.4L680.4,235.4M683.3,235.4L683.7,235.4L684.2,235.4L684.7,235.4L685.1,235.4L685.6,235.4L686.1,235.5L686.5,235.5L686.9,235.5M689.8,235.7L690.2,235.7L690.7,235.8L691.1,235.8L691.6,235.9L692.1,235.9L692.5,236.0L693.0,236.0" fill="none" stroke="#0000ff" stroke-width="1.8" stroke-linejoin="round"/>
<path d="M499.0,216.8L499.5,216.8L499.9,216.8L500.4,216.8L500.9,216.8L501.3,216.8L501.8,216.8L502.0,216.8M504.9,216.8L505.0,216.8L505.5,216.8L505.9,216.8L506.4,216.8L506.9,216.8L507.3,216.8L507.8,216.8L508.3,216.8L508.5,216.8M511.4,216.9L511.5,216.9L512.0,216.9L512.4,217.0L512.9,217.0L513.4,217.1L513.8,217.2L514.3,217.2L514.7,217.4L515.0,217.5M517.5,219.2L518.0,219.6L518.4,220.1L518.9,220.8L519.4,221.6L519.8,222.6L519.9,222.7M521.2,226.0L521.2,226.0L521.7,227.3L522.2,228.7L522.6,230.2L522.6,230.3M523.6,233.8L524.0,235.2L524.5,237.0L524.8,238.3M525.5,241.9L525.9,243.5L526.3,245.8L526.4,246.4M527.2,250.1L527.2,250.4L527.7,252.6L528.1,254.6M528.8,258.3L529.1,259.6L529.6,262.2L529.7,262.8M530.3,266.5L530.5,267.8L530.9,270.4L531.1,271.1M531.8,274.7L531.9,275.0L532.3,277.1L532.8,279.1L532.8,279.2M533.7,282.8L533.7,283.0L534.2,284.9L534.7,286.8L534.8,287.3M535.6,290.9L536.0,292.5L536.5,294.2L536.8,295.3M537.9,298.8L537.9,298.9L538.4,300.3L538.8,301.7L539.3,302.9L539.3,303.1M541.2,306.0L541.6,306.5L542.1,306.9L542.5,307.2L543.0,307.5L543.4,307.6L543.9,307.8L544.4,307.9M547.2,308.6L547.6,308.7L548.1,308.7L548.5,308.7L549.0,308.7L549.5,308.7L549.9,308.7L550.4,308.7L550.8,308.7M553.7,308.7L554.1,308.7L554.6,308.7L555.0,308.7L555.5,308.7L555.9,308.7L556.4,308.7L556.9,308.7L557.3,308.7M560.2,308.7L560.6,308.7L561.0,308.7L561.5,308.7L562.0,308.7L562.4,308.7L562.9,308.7L563.4,308.7L563.8,308.8M566.7,308.8L567.1,308.8L567.5,308.8L568.0,308.8L568.5,308.8L568.9,308.8L569.4,308.8L569.8,308.8L570.3,308.8L570.3,308.8M573.2,308.8L573.5,308.8L574.0,308.9L574.5,308.9L574.9,308.9L575.4,308.9L575.9,308.9L576.3,308.9L576.8,308.9L576.8,308.9M579.7,309.1L580.0,309.1L580.5,309.1L581.0,309.2L581.4,309.2L581.9,309.3L582.3,309.3L582.8,309.4L583.3,309.4L583.3,309.4M586.2,309.7L586.5,309.8L587.0,309.8L587.4,309.9L587.9,310.0L588.4,310.0L588.8,310.1L589.3,310.1L589.7,310.2L589.8,310.2M592.7,310.5L593.0,310.6L593.5,310.6L593.9,310.7L594.4,310.7L594.8,310.7L595.3,310.8L595.8,310.8L596.2,310.9L596.3,310.9M599.1,311.2L599.5,311.2L599.9,311.2L600.4,311.3L600.9,311.3L601.3,311.4L601.8,311.4L602.3,311.5L602.7,311.5L602.7,311.5M605.6,311.8L606.0,311.8L606.4,311.9L606.9,311.9L607.3,311.9L607.8,312.0L608.3,312.0L608.7,312.1L609.2,312.1L609.2,312.1M612.1,312.4L612.4,312.4L612.9,312.5L613.4,312.5L613.8,312.5L614.3,312.6L614.8,312.6L615.2,312.7L615.7,312.7L615.7,312.7M618.6,313.0L618.9,313.0L619.4,313.0L619.8,313.1L620.3,313.1L620.8,313.2L621.2,313.2L621.7,313.3L622.2,313.3L622.2,313.3M625.1,313.6L625.4,313.6L625.9,313.6L626.3,313.7L626.8,313.7L627.3,313.8L627.7,313.8L628.2,313.8L628.6,313.9L628.7,313.9M631.6,314.1L631.9,314.2L632.3,314.2L632.8,314.2L633.3,314.3L633.7,314.3L634.2,314.4L634.7,314.4L635.1,314.4L635.2,314.4M638.0,314.7L638.4,314.8L638.8,314.8L639.3,314.8L639.8,314.9L640.2,314.9L640.7,314.9L641.1,314.9L641.6,314.9L641.6,314.9M644.5,314.4L644.8,314.2L645.3,313.8L645.8,313.4L646.2,312.8L646.7,312.1L647.1,311.3M648.6,308.0L649.0,306.6L649.5,305.1L649.9,303.7M650.9,300.1L651.3,298.6L651.8,296.9L652.1,295.7M653.1,292.2L653.2,291.9L653.6,290.2L654.1,288.5L654.3,287.8M655.3,284.2L655.5,283.3L656.0,281.6L656.4,279.9L656.5,279.8M657.4,276.3L657.8,274.9L658.3,273.2L658.6,271.8M659.4,268.2L659.7,266.7L660.1,264.3L660.2,263.7M661.0,260.0L661.1,259.7L661.5,257.7L662.0,255.7L662.0,255.5M662.9,251.9L663.4,250.3L663.8,248.8L664.2,247.6M665.4,244.1L665.7,243.3L666.1,242.2L666.6,241.3L667.1,240.6L667.3,240.2M669.5,237.8L669.8,237.6L670.3,237.4L670.8,237.1L671.2,236.9L671.7,236.6L672.2,236.4L672.6,236.3L672.9,236.2M675.8,236.0L675.9,236.0L676.3,236.0L676.8,236.0L677.3,236.0L677.7,236.0L678.2,236.0L678.6,236.0L679.1,236.0L679.4,236.0M682.3,235.9L682.4,235.9L682.8,235.9L683.3,235.9L683.7,235.9L684.2,235.9L684.7,235.9L685.1,236.0L685.6,236.0L685.9,236.0M688.8,236.1L688.8,236.1L689.3,236.2L689.8,236.2L690.2,236.3L690.7,236.3L691.1,236.3L691.6,236.4L692.1,236.4L692.4,236.5" fill="none" stroke="#ff00ff" stroke-width="1.8" stroke-linejoin="round"/>
<path d="M498.40,189.80H693.60" stroke="#2e2e2e" stroke-width="1.25"/>
<path d="M693.00,189.20V343.80" stroke="#2e2e2e" stroke-width="1.25"/>
<path d="M498.40,343.20H693.60" stroke="#2e2e2e" stroke-width="1.25"/>
<path d="M499.00,189.20V343.80" stroke="#2e2e2e" stroke-width="1.25"/>
<path d="M495.70,331.40H499.00M495.70,307.80H499.00M495.70,284.20H499.00M495.70,260.60H499.00M495.70,237.00H499.00M495.70,213.40H499.00M495.70,189.80H499.00M497.10,319.60H499.00M497.10,296.00H499.00M497.10,272.40H499.00M497.10,248.80H499.00M497.10,225.20H499.00M497.10,201.60H499.00M499.00,343.20V346.50M526.71,343.20V346.50M554.43,343.20V346.50M582.14,343.20V346.50M609.86,343.20V346.50M637.57,343.20V346.50M665.29,343.20V346.50M693.00,343.20V346.50M512.86,343.20V345.10M540.57,343.20V345.10M568.29,343.20V345.10M596.00,343.20V345.10M623.71,343.20V345.10M651.43,343.20V345.10M679.14,343.20V345.10" stroke="#111" stroke-width="1.3" fill="none"/>
<text x="493.50" y="334.15" font-size="9.3" text-anchor="end">-50</text>
<text x="493.50" y="310.55" font-size="9.3" text-anchor="end">-40</text>
<text x="493.50" y="286.95" font-size="9.3" text-anchor="end">-30</text>
<text x="493.50" y="263.35" font-size="9.3" text-anchor="end">-20</text>
<text x="493.50" y="239.75" font-size="9.3" text-anchor="end">-10</text>
<text x="493.50" y="216.15" font-size="9.3" text-anchor="end">0</text>
<text x="493.50" y="192.55" font-size="9.3" text-anchor="end">10</text>
<text x="499.00" y="356.10" font-size="9.3" text-anchor="middle">0</text>
<text x="526.71" y="356.10" font-size="9.3" text-anchor="middle">50</text>
<text x="554.43" y="356.10" font-size="9.3" text-anchor="middle">100</text>
<text x="582.14" y="356.10" font-size="9.3" text-anchor="middle">150</text>
<text x="609.86" y="356.10" font-size="9.3" text-anchor="middle">200</text>
<text x="637.57" y="356.10" font-size="9.3" text-anchor="middle">250</text>
<text x="665.29" y="356.10" font-size="9.3" text-anchor="middle">300</text>
<text x="693.00" y="356.10" font-size="9.3" text-anchor="middle">350</text>
<path d="M635.00,304.40L635.00,316.60" stroke="#000" stroke-width="1.0" fill="none"/><path d="M635.00,320.60L633.60,316.60L636.40,316.60Z" fill="#000"/>
<text x="562.5" y="288.5" font-size="10.95">ΔE=3kV/mm</text>
<text x="594.60" y="366.70" font-size="10.9" text-anchor="middle">Thickness(µm)</text>
<text transform="translate(477.50,265.10) rotate(-90)" font-size="11.1" text-anchor="middle">Electric field(kV/mm)</text>
</svg>
</body></html>
